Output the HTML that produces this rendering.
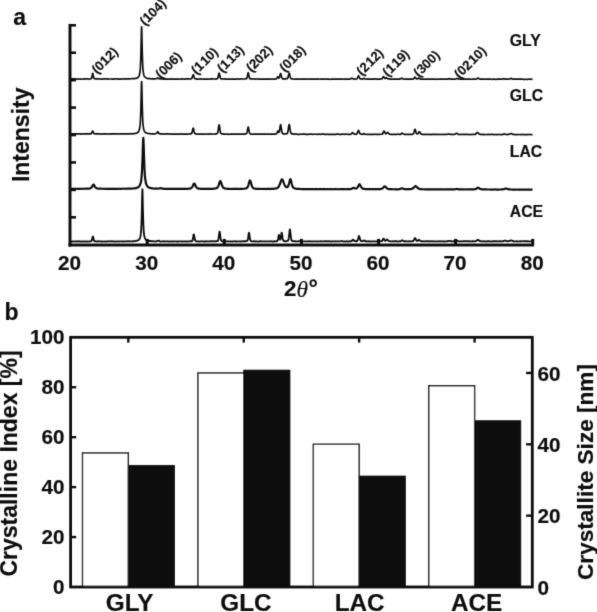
<!DOCTYPE html>
<html><head><meta charset="utf-8"><title>Figure</title>
<style>
html,body{margin:0;padding:0;background:#fff;}
body{width:597px;height:612px;overflow:hidden;font-family:"Liberation Sans",sans-serif;}
svg{display:block;}
svg text{font-family:"Liberation Sans",sans-serif;font-weight:bold;fill:#111;stroke:#111;stroke-width:0.18px;}
svg text.m{font-kerning:none;font-feature-settings:"kern" 0;}
svg text.th{stroke-width:0.15px;font-family:"Liberation Serif",serif;font-weight:normal;font-style:italic;}
</style></head><body>
<svg width="597" height="612" viewBox="0 0 597 612">
<defs><filter id="soft" x="0" y="0" width="597" height="612" filterUnits="userSpaceOnUse"><feConvolveMatrix order="3" kernelMatrix="0.012 0.086 0.012 0.086 0.608 0.086 0.012 0.086 0.012" edgeMode="none" preserveAlpha="false"/></filter></defs>
<rect x="0" y="0" width="597" height="612" fill="#ffffff"/>
<g filter="url(#soft)">

<g id="panel-a">
<text x="13.2" y="25.2" font-size="23">a</text>
<text transform="translate(28.5,134.8) rotate(-90)" text-anchor="middle" font-size="23">Intensity</text>
<path d="M70.50,78.97 L70.90,78.99 L71.30,78.89 L71.70,78.97 L72.10,78.94 L72.50,78.89 L72.90,78.90 L73.30,78.87 L73.70,79.08 L74.10,79.10 L74.50,79.12 L74.90,78.98 L75.30,78.94 L75.70,78.91 L76.10,78.91 L76.50,78.96 L76.90,78.99 L77.30,79.04 L77.70,79.01 L78.10,79.02 L78.50,79.05 L78.90,79.08 L79.30,79.06 L79.70,78.99 L80.10,78.99 L80.50,79.08 L80.90,79.08 L81.30,79.05 L81.70,79.01 L82.10,78.99 L82.50,78.98 L82.90,78.98 L83.30,79.04 L83.70,79.05 L84.10,79.04 L84.50,78.90 L84.90,78.94 L85.30,78.87 L85.70,78.92 L86.10,78.89 L86.50,78.95 L86.90,79.00 L87.30,78.94 L87.70,78.91 L88.10,78.92 L88.50,79.01 L88.90,79.03 L89.30,79.02 L89.70,78.99 L90.10,78.93 L90.50,78.84 L90.90,78.73 L91.30,78.52 L91.70,77.75 L92.10,75.91 L92.50,73.77 L92.50,73.68 L92.70,73.34 L92.90,73.75 L92.90,73.78 L93.30,75.88 L93.70,77.61 L94.10,78.50 L94.50,78.67 L94.90,78.75 L95.30,78.80 L95.70,78.95 L96.10,78.92 L96.50,78.88 L96.90,78.86 L97.30,78.93 L97.70,79.02 L98.10,78.96 L98.50,79.01 L98.90,78.90 L99.30,79.01 L99.70,79.00 L100.10,79.03 L100.50,78.90 L100.90,78.97 L101.30,79.02 L101.70,79.12 L102.10,79.10 L102.50,79.08 L102.90,79.02 L103.30,78.95 L103.70,78.90 L104.10,78.98 L104.50,78.96 L104.90,78.97 L105.30,78.90 L105.70,78.97 L106.10,79.01 L106.50,78.97 L106.90,78.90 L107.30,78.87 L107.70,78.97 L108.10,79.07 L108.50,79.08 L108.90,79.02 L109.30,79.00 L109.70,78.98 L110.10,79.03 L110.50,78.98 L110.90,79.00 L111.30,78.96 L111.70,79.01 L112.10,79.02 L112.50,79.12 L112.90,79.16 L113.30,79.21 L113.70,79.03 L114.10,78.95 L114.50,78.87 L114.90,78.97 L115.30,78.89 L115.70,78.96 L116.10,78.98 L116.50,79.02 L116.90,78.93 L117.30,78.86 L117.70,78.91 L118.10,78.97 L118.50,79.09 L118.90,79.08 L119.30,79.08 L119.70,79.00 L120.10,79.08 L120.50,79.08 L120.90,79.12 L121.30,79.01 L121.70,78.97 L122.10,78.88 L122.50,78.98 L122.90,79.01 L123.30,79.03 L123.70,78.95 L124.10,78.94 L124.50,78.92 L124.90,78.90 L125.30,78.89 L125.70,79.02 L126.10,79.04 L126.50,78.99 L126.90,78.84 L127.30,78.79 L127.70,78.83 L128.10,78.90 L128.50,78.95 L128.90,78.94 L129.30,78.90 L129.70,78.89 L130.10,78.81 L130.50,78.77 L130.90,78.76 L131.30,78.77 L131.70,78.76 L132.10,78.70 L132.50,78.70 L132.90,78.72 L133.30,78.71 L133.70,78.69 L134.10,78.65 L134.50,78.64 L134.90,78.67 L135.30,78.49 L135.70,78.42 L136.10,78.24 L136.50,78.21 L136.90,78.07 L137.30,77.94 L137.70,77.74 L138.10,77.38 L138.50,76.94 L138.90,76.23 L139.30,75.21 L139.70,73.57 L140.10,70.78 L140.50,65.62 L140.90,54.96 L141.30,36.21 L141.40,31.47 L141.60,26.90 L141.70,28.03 L141.80,31.36 L142.10,46.25 L142.50,61.16 L142.90,68.58 L143.30,72.45 L143.70,74.50 L144.10,75.80 L144.50,76.52 L144.90,77.06 L145.30,77.37 L145.70,77.64 L146.10,77.89 L146.50,78.13 L146.90,78.31 L147.30,78.43 L147.70,78.54 L148.10,78.61 L148.50,78.66 L148.90,78.63 L149.30,78.59 L149.70,78.65 L150.10,78.62 L150.50,78.74 L150.90,78.73 L151.30,78.87 L151.70,78.86 L152.10,78.84 L152.50,78.82 L152.90,78.81 L153.30,78.85 L153.70,78.85 L154.10,78.87 L154.50,78.88 L154.90,78.84 L155.30,78.84 L155.70,78.76 L156.10,78.76 L156.50,78.65 L156.90,78.59 L157.30,78.35 L157.60,78.12 L157.70,78.04 L157.80,77.97 L158.00,78.06 L158.10,78.13 L158.50,78.43 L158.90,78.66 L159.30,78.77 L159.70,78.83 L160.10,78.93 L160.50,78.90 L160.90,78.94 L161.30,78.97 L161.70,78.98 L162.10,78.93 L162.50,78.90 L162.90,78.93 L163.30,79.03 L163.70,79.04 L164.10,79.03 L164.50,78.93 L164.90,78.92 L165.30,79.05 L165.70,79.08 L166.10,79.09 L166.50,79.02 L166.90,79.03 L167.30,79.11 L167.70,79.07 L168.10,79.11 L168.50,79.02 L168.90,79.07 L169.30,78.99 L169.70,79.06 L170.10,79.03 L170.50,79.08 L170.90,78.97 L171.30,78.95 L171.70,78.97 L172.10,79.05 L172.50,79.11 L172.90,79.14 L173.30,79.13 L173.70,79.10 L174.10,79.08 L174.50,79.08 L174.90,79.07 L175.30,79.07 L175.70,79.10 L176.10,79.11 L176.50,79.07 L176.90,79.05 L177.30,79.11 L177.70,79.12 L178.10,79.09 L178.50,79.01 L178.90,79.06 L179.30,79.00 L179.70,79.02 L180.10,79.01 L180.50,79.06 L180.90,79.10 L181.30,79.07 L181.70,79.08 L182.10,79.03 L182.50,78.95 L182.90,78.95 L183.30,79.01 L183.70,79.04 L184.10,79.14 L184.50,79.06 L184.90,79.13 L185.30,79.06 L185.70,78.97 L186.10,78.91 L186.50,78.91 L186.90,78.95 L187.30,78.92 L187.70,78.92 L188.10,78.94 L188.50,78.92 L188.90,78.87 L189.30,78.92 L189.70,78.96 L190.10,79.01 L190.50,79.01 L190.90,78.99 L191.30,78.82 L191.70,78.46 L192.10,77.81 L192.50,76.64 L192.90,75.20 L193.00,74.95 L193.20,74.66 L193.30,74.72 L193.40,74.86 L193.70,75.85 L194.10,77.27 L194.50,78.17 L194.90,78.58 L195.30,78.73 L195.70,78.81 L196.10,78.89 L196.50,78.95 L196.90,79.12 L197.30,79.14 L197.70,79.13 L198.10,79.05 L198.50,79.03 L198.90,79.04 L199.30,79.05 L199.70,79.01 L200.10,78.92 L200.50,78.91 L200.90,78.92 L201.30,79.10 L201.70,79.04 L202.10,79.02 L202.50,79.02 L202.90,79.01 L203.30,79.06 L203.70,79.06 L204.10,79.11 L204.50,79.10 L204.90,79.04 L205.30,79.07 L205.70,79.04 L206.10,79.07 L206.50,79.06 L206.90,79.18 L207.30,79.14 L207.70,79.08 L208.10,79.02 L208.50,79.02 L208.90,79.06 L209.30,79.04 L209.70,79.10 L210.10,79.06 L210.50,79.05 L210.90,78.90 L211.30,78.89 L211.70,78.95 L212.10,79.03 L212.50,79.03 L212.90,78.92 L213.30,78.97 L213.70,79.00 L214.10,78.99 L214.50,78.99 L214.90,78.98 L215.30,79.04 L215.70,78.97 L216.10,79.01 L216.50,78.95 L216.90,78.91 L217.30,78.66 L217.70,78.20 L218.10,77.17 L218.50,75.29 L218.90,73.45 L218.90,73.44 L219.10,73.18 L219.30,73.49 L219.30,73.47 L219.70,75.23 L220.10,77.10 L220.50,78.21 L220.90,78.73 L221.30,78.89 L221.70,78.91 L222.10,78.92 L222.50,78.89 L222.90,78.98 L223.30,79.02 L223.70,79.05 L224.10,78.95 L224.50,78.94 L224.90,79.02 L225.30,79.10 L225.70,79.08 L226.10,79.08 L226.50,79.12 L226.90,79.19 L227.30,79.17 L227.70,79.16 L228.10,79.15 L228.50,79.15 L228.90,79.07 L229.30,79.11 L229.70,79.09 L230.10,79.20 L230.50,79.06 L230.90,79.08 L231.30,79.04 L231.70,79.11 L232.10,79.10 L232.50,79.09 L232.90,79.13 L233.30,79.09 L233.70,79.05 L234.10,79.07 L234.50,79.14 L234.90,79.15 L235.30,79.11 L235.70,79.07 L236.10,79.11 L236.50,79.06 L236.90,79.00 L237.30,78.96 L237.70,78.96 L238.10,78.99 L238.50,78.99 L238.90,79.05 L239.30,79.03 L239.70,79.06 L240.10,78.97 L240.50,79.03 L240.90,78.93 L241.30,78.95 L241.70,78.95 L242.10,78.99 L242.50,79.01 L242.90,78.96 L243.30,78.99 L243.70,79.01 L244.10,79.01 L244.50,79.02 L244.90,78.97 L245.30,78.92 L245.70,78.81 L246.10,78.80 L246.50,78.65 L246.90,78.13 L247.30,76.71 L247.70,74.51 L248.00,73.05 L248.10,72.77 L248.20,72.72 L248.40,73.07 L248.50,73.45 L248.90,75.60 L249.30,77.39 L249.70,78.42 L250.10,78.89 L250.50,79.02 L250.90,79.01 L251.30,78.85 L251.70,78.89 L252.10,78.91 L252.50,78.97 L252.90,79.00 L253.30,78.95 L253.70,78.99 L254.10,78.97 L254.50,78.99 L254.90,79.03 L255.30,79.07 L255.70,79.07 L256.10,78.98 L256.50,78.97 L256.90,79.02 L257.30,79.03 L257.70,79.00 L258.10,79.00 L258.50,79.04 L258.90,79.09 L259.30,79.11 L259.70,79.18 L260.10,79.21 L260.50,79.22 L260.90,79.19 L261.30,79.19 L261.70,79.19 L262.10,79.10 L262.50,79.08 L262.90,79.06 L263.30,79.17 L263.70,79.14 L264.10,79.16 L264.50,79.11 L264.90,79.17 L265.30,79.15 L265.70,79.13 L266.10,79.08 L266.50,79.05 L266.90,79.07 L267.30,79.05 L267.70,79.08 L268.10,79.15 L268.50,79.14 L268.90,79.13 L269.30,79.04 L269.70,79.08 L270.10,79.03 L270.50,79.01 L270.90,78.98 L271.30,79.05 L271.70,79.07 L272.10,79.05 L272.50,78.99 L272.90,79.01 L273.30,79.08 L273.70,79.12 L274.10,79.10 L274.50,79.05 L274.90,78.98 L275.30,78.94 L275.70,78.88 L276.10,78.86 L276.50,78.69 L276.90,78.17 L277.30,77.38 L277.60,76.85 L277.70,76.78 L277.80,76.70 L278.00,76.76 L278.10,76.95 L278.50,77.63 L278.90,78.09 L279.30,77.73 L279.70,76.68 L280.10,74.85 L280.40,73.72 L280.50,73.47 L280.60,73.44 L280.80,73.69 L280.90,73.99 L281.30,75.71 L281.70,77.27 L282.10,78.25 L282.50,78.68 L282.90,78.89 L283.30,78.94 L283.70,78.92 L284.10,78.93 L284.50,78.97 L284.90,79.05 L285.30,78.96 L285.70,78.74 L286.10,78.64 L286.50,78.73 L286.90,78.77 L287.30,78.62 L287.70,78.13 L288.10,77.11 L288.50,75.50 L288.90,73.81 L289.00,73.58 L289.20,73.34 L289.30,73.35 L289.40,73.53 L289.70,74.58 L290.10,76.44 L290.50,77.86 L290.90,78.56 L291.30,78.73 L291.70,78.73 L292.10,78.83 L292.50,79.00 L292.90,79.08 L293.30,79.05 L293.70,79.00 L294.10,79.01 L294.50,79.01 L294.90,79.09 L295.30,79.04 L295.70,79.12 L296.10,79.11 L296.50,79.15 L296.90,79.16 L297.30,79.09 L297.70,79.08 L298.10,79.05 L298.50,79.10 L298.90,79.14 L299.30,79.13 L299.70,79.09 L300.10,79.01 L300.50,79.01 L300.90,79.07 L301.30,79.07 L301.70,79.13 L302.10,79.11 L302.50,79.14 L302.90,79.04 L303.30,79.04 L303.70,79.07 L304.10,79.06 L304.50,79.09 L304.90,79.13 L305.30,79.22 L305.70,79.19 L306.10,79.22 L306.50,79.26 L306.90,79.20 L307.30,79.11 L307.70,79.05 L308.10,79.08 L308.50,78.99 L308.90,79.02 L309.30,79.01 L309.70,79.11 L310.10,79.07 L310.50,79.13 L310.90,79.11 L311.30,79.09 L311.70,79.08 L312.10,79.14 L312.50,79.16 L312.90,79.20 L313.30,79.15 L313.70,79.14 L314.10,79.15 L314.50,79.11 L314.90,79.17 L315.30,79.09 L315.70,79.14 L316.10,79.05 L316.50,79.04 L316.90,79.06 L317.30,79.12 L317.70,79.15 L318.10,79.09 L318.50,79.10 L318.90,79.05 L319.30,79.02 L319.70,79.00 L320.10,79.02 L320.50,79.04 L320.90,79.04 L321.30,79.07 L321.70,79.09 L322.10,79.16 L322.50,79.20 L322.90,79.26 L323.30,79.19 L323.70,79.13 L324.10,79.03 L324.50,79.01 L324.90,78.95 L325.30,78.99 L325.70,79.03 L326.10,79.18 L326.50,79.24 L326.90,79.18 L327.30,79.13 L327.70,79.06 L328.10,79.13 L328.50,79.10 L328.90,79.17 L329.30,79.24 L329.70,79.28 L330.10,79.34 L330.50,79.25 L330.90,79.20 L331.30,79.16 L331.70,79.22 L332.10,79.21 L332.50,79.16 L332.90,79.03 L333.30,79.05 L333.70,79.08 L334.10,79.13 L334.50,79.12 L334.90,79.03 L335.30,79.05 L335.70,79.10 L336.10,79.18 L336.50,79.18 L336.90,79.09 L337.30,79.14 L337.70,79.13 L338.10,79.17 L338.50,79.13 L338.90,79.05 L339.30,79.05 L339.70,79.02 L340.10,79.12 L340.50,79.17 L340.90,79.20 L341.30,79.11 L341.70,79.04 L342.10,79.03 L342.50,79.11 L342.90,79.07 L343.30,79.00 L343.70,79.01 L344.10,79.08 L344.50,79.14 L344.90,79.05 L345.30,79.11 L345.70,78.99 L346.10,79.05 L346.50,79.06 L346.90,79.17 L347.30,79.19 L347.70,79.06 L348.10,79.11 L348.50,79.05 L348.90,79.10 L349.30,79.05 L349.70,79.04 L350.10,79.04 L350.50,78.91 L350.90,78.74 L351.30,78.39 L351.70,78.11 L351.70,78.16 L351.90,78.14 L352.10,78.20 L352.10,78.16 L352.50,78.41 L352.90,78.72 L353.30,78.95 L353.70,79.03 L354.10,79.09 L354.50,79.05 L354.90,79.03 L355.30,79.04 L355.70,78.98 L356.10,78.99 L356.50,78.96 L356.90,78.82 L357.30,78.46 L357.70,77.60 L358.10,76.56 L358.40,75.83 L358.50,75.76 L358.60,75.72 L358.80,75.94 L358.90,76.20 L359.30,77.28 L359.70,78.24 L360.10,78.70 L360.50,78.91 L360.90,78.93 L361.30,78.90 L361.70,78.92 L362.10,79.03 L362.50,79.09 L362.90,78.99 L363.30,78.83 L363.70,78.59 L363.80,78.55 L364.00,78.41 L364.10,78.39 L364.20,78.43 L364.50,78.70 L364.90,78.94 L365.30,79.04 L365.70,78.99 L366.10,79.01 L366.50,78.99 L366.90,79.03 L367.30,79.07 L367.70,79.15 L368.10,79.17 L368.50,79.09 L368.90,79.02 L369.30,79.04 L369.70,79.14 L370.10,79.15 L370.50,79.10 L370.90,79.06 L371.30,79.15 L371.70,79.15 L372.10,79.13 L372.50,79.11 L372.90,79.11 L373.30,79.13 L373.70,79.05 L374.10,78.92 L374.50,78.89 L374.90,78.90 L375.30,79.03 L375.70,79.09 L376.10,79.16 L376.50,79.14 L376.90,79.11 L377.30,79.14 L377.70,79.13 L378.10,79.16 L378.50,79.13 L378.90,79.17 L379.30,79.19 L379.70,79.12 L380.10,79.14 L380.50,79.03 L380.90,79.01 L381.30,78.89 L381.70,78.86 L382.10,78.64 L382.50,78.22 L382.90,77.43 L383.30,76.74 L383.40,76.68 L383.60,76.62 L383.70,76.67 L383.80,76.70 L384.10,77.24 L384.50,77.94 L384.90,78.37 L385.30,78.47 L385.70,78.29 L386.10,78.02 L386.30,77.82 L386.50,77.73 L386.50,77.76 L386.70,77.80 L386.90,78.06 L387.30,78.44 L387.70,78.74 L388.10,78.81 L388.50,78.86 L388.90,78.89 L389.30,78.97 L389.70,79.00 L390.10,79.06 L390.50,79.05 L390.90,79.07 L391.30,79.16 L391.70,79.25 L392.10,79.23 L392.50,79.21 L392.90,79.12 L393.30,79.14 L393.70,79.07 L394.10,79.13 L394.50,79.06 L394.90,79.06 L395.30,79.03 L395.70,79.11 L396.10,79.09 L396.50,79.07 L396.90,79.05 L397.30,79.11 L397.70,79.10 L398.10,79.10 L398.50,79.07 L398.90,79.16 L399.30,79.17 L399.70,79.11 L400.10,78.92 L400.50,78.78 L400.90,78.65 L401.30,78.45 L401.50,78.37 L401.70,78.26 L401.70,78.20 L401.90,78.23 L402.10,78.37 L402.50,78.75 L402.90,78.89 L403.30,79.02 L403.70,79.01 L404.10,79.12 L404.50,79.10 L404.90,79.10 L405.30,79.05 L405.70,79.13 L406.10,79.15 L406.50,79.15 L406.90,79.06 L407.30,79.01 L407.70,79.10 L408.10,79.07 L408.50,79.08 L408.90,79.04 L409.30,79.16 L409.70,79.19 L410.10,79.19 L410.50,79.17 L410.90,79.21 L411.30,79.18 L411.70,79.21 L412.10,79.16 L412.50,79.21 L412.90,79.06 L413.30,79.01 L413.70,78.68 L414.10,78.21 L414.50,77.55 L414.80,77.15 L414.90,77.16 L415.00,77.07 L415.20,77.26 L415.30,77.35 L415.70,77.98 L416.10,78.48 L416.50,78.81 L416.90,78.90 L417.30,78.83 L417.70,78.67 L418.10,78.45 L418.40,78.27 L418.50,78.14 L418.60,78.12 L418.80,78.10 L418.90,78.05 L419.30,78.28 L419.70,78.57 L420.10,78.95 L420.50,79.08 L420.90,79.13 L421.30,79.03 L421.70,79.05 L422.10,79.07 L422.50,79.09 L422.90,79.08 L423.30,79.12 L423.70,79.15 L424.10,79.16 L424.50,79.21 L424.90,79.27 L425.30,79.20 L425.70,79.26 L426.10,79.19 L426.50,79.31 L426.90,79.18 L427.30,79.19 L427.70,79.15 L428.10,79.18 L428.50,79.20 L428.90,79.22 L429.30,79.18 L429.70,79.14 L430.10,79.14 L430.50,79.21 L430.90,79.20 L431.30,79.16 L431.70,79.13 L432.10,79.10 L432.50,79.06 L432.90,79.13 L433.30,79.16 L433.70,79.21 L434.10,79.12 L434.50,79.19 L434.90,79.25 L435.30,79.28 L435.70,79.24 L436.10,79.14 L436.50,79.22 L436.90,79.24 L437.30,79.24 L437.70,79.22 L438.10,79.19 L438.50,79.24 L438.90,79.21 L439.30,79.17 L439.70,79.13 L440.10,79.14 L440.50,79.16 L440.90,79.15 L441.30,79.20 L441.70,79.20 L442.10,79.21 L442.50,79.10 L442.90,79.14 L443.30,79.20 L443.70,79.24 L444.10,79.24 L444.50,79.14 L444.90,79.12 L445.30,79.06 L445.70,79.12 L446.10,79.15 L446.50,79.08 L446.90,79.19 L447.30,79.10 L447.70,79.14 L448.10,78.95 L448.50,78.92 L448.80,78.86 L448.90,78.70 L449.00,78.62 L449.20,78.65 L449.30,78.74 L449.70,78.84 L450.10,78.82 L450.50,78.98 L450.90,79.09 L451.30,79.17 L451.70,79.12 L452.10,79.10 L452.50,79.09 L452.90,79.09 L453.30,79.10 L453.70,79.17 L454.10,79.22 L454.50,79.20 L454.90,79.14 L455.30,79.06 L455.70,78.94 L456.10,78.77 L456.50,78.64 L456.80,78.56 L456.90,78.61 L457.00,78.58 L457.20,78.57 L457.30,78.61 L457.70,78.75 L458.10,78.94 L458.50,79.05 L458.90,79.07 L459.30,79.02 L459.70,79.01 L460.10,79.01 L460.50,79.14 L460.90,79.16 L461.30,79.18 L461.70,79.15 L462.10,79.20 L462.50,79.26 L462.90,79.28 L463.30,79.24 L463.70,79.18 L464.10,79.17 L464.50,79.17 L464.90,79.18 L465.30,79.20 L465.70,79.13 L466.10,79.07 L466.50,78.99 L466.90,79.01 L467.30,79.13 L467.70,79.25 L468.10,79.23 L468.50,79.11 L468.90,79.10 L469.30,79.15 L469.70,79.16 L470.10,79.17 L470.50,79.16 L470.90,79.27 L471.30,79.24 L471.70,79.27 L472.10,79.22 L472.50,79.17 L472.90,79.12 L473.30,79.08 L473.70,79.15 L474.10,79.12 L474.50,79.08 L474.90,79.06 L475.30,79.14 L475.70,79.23 L476.10,79.18 L476.50,78.95 L476.90,78.65 L477.30,78.30 L477.70,78.10 L477.80,78.00 L478.00,77.99 L478.10,78.01 L478.20,78.08 L478.50,78.24 L478.90,78.57 L479.30,78.87 L479.70,79.07 L480.10,79.16 L480.50,79.21 L480.90,79.21 L481.30,79.16 L481.70,79.20 L482.10,79.17 L482.50,79.16 L482.90,79.14 L483.30,79.14 L483.70,79.18 L484.10,79.20 L484.50,79.23 L484.90,79.22 L485.30,79.22 L485.70,79.24 L486.10,79.18 L486.50,79.09 L486.90,79.11 L487.30,79.19 L487.70,79.16 L488.10,79.05 L488.50,79.04 L488.90,79.09 L489.30,79.16 L489.70,79.16 L490.10,79.22 L490.50,79.15 L490.90,79.18 L491.30,79.24 L491.70,79.25 L492.10,79.28 L492.50,79.24 L492.90,79.30 L493.30,79.24 L493.70,79.16 L494.10,79.10 L494.50,79.13 L494.90,79.22 L495.30,79.30 L495.70,79.31 L496.10,79.30 L496.50,79.24 L496.90,79.15 L497.30,79.12 L497.70,79.16 L498.10,79.21 L498.50,79.14 L498.90,79.10 L499.30,79.04 L499.70,79.10 L500.10,79.08 L500.50,79.13 L500.90,79.13 L501.30,79.18 L501.70,79.23 L502.10,79.15 L502.50,79.01 L502.90,78.91 L503.30,78.91 L503.70,78.96 L503.80,78.92 L504.00,78.87 L504.10,78.82 L504.20,78.77 L504.50,78.78 L504.90,78.90 L505.30,79.02 L505.70,79.18 L506.10,79.13 L506.50,79.15 L506.90,79.12 L507.30,79.16 L507.70,79.12 L508.10,79.01 L508.50,78.98 L508.90,79.04 L509.30,79.02 L509.70,78.95 L510.10,78.73 L510.50,78.61 L510.80,78.52 L510.90,78.50 L511.00,78.44 L511.20,78.46 L511.30,78.56 L511.70,78.69 L512.10,78.85 L512.50,79.02 L512.90,79.10 L513.30,79.09 L513.70,79.09 L514.10,79.16 L514.50,79.22 L514.90,79.20 L515.30,79.17 L515.70,79.20 L516.10,79.18 L516.50,79.22 L516.90,79.16 L517.30,79.14 L517.70,79.11 L518.10,79.14 L518.50,79.20 L518.90,79.20 L519.30,79.20 L519.70,79.18 L520.10,79.16 L520.50,79.12 L520.90,79.07 L521.30,79.06 L521.70,79.10 L522.10,79.15 L522.50,79.22 L522.90,79.26 L523.30,79.33 L523.70,79.34 L524.10,79.31 L524.50,79.31 L524.90,79.30 L525.30,79.29 L525.70,79.24 L526.10,79.24 L526.50,79.27 L526.90,79.29 L527.30,79.27 L527.70,79.29 L528.10,79.23 L528.50,79.23 L528.90,79.19 L529.30,79.23 L529.70,79.15 L530.10,79.18 L530.50,79.20 L530.90,79.29 L531.30,79.28 L531.70,79.25 L532.10,79.19 L532.50,79.19" fill="none" stroke="#111" stroke-width="1.7" stroke-linejoin="round"/>
<path d="M70.50,133.85 L70.90,133.85 L71.30,133.92 L71.70,133.90 L72.10,133.94 L72.50,133.84 L72.90,133.85 L73.30,133.81 L73.70,133.92 L74.10,133.92 L74.50,133.84 L74.90,133.81 L75.30,133.83 L75.70,133.88 L76.10,133.82 L76.50,133.79 L76.90,133.84 L77.30,133.91 L77.70,133.88 L78.10,133.97 L78.50,133.94 L78.90,133.98 L79.30,133.92 L79.70,133.93 L80.10,134.03 L80.50,134.05 L80.90,134.03 L81.30,133.92 L81.70,133.86 L82.10,133.86 L82.50,133.90 L82.90,133.90 L83.30,133.98 L83.70,133.95 L84.10,133.97 L84.50,133.94 L84.90,133.86 L85.30,133.83 L85.70,133.82 L86.10,133.89 L86.50,133.93 L86.90,133.92 L87.30,133.89 L87.70,133.89 L88.10,133.81 L88.50,133.76 L88.90,133.81 L89.30,133.82 L89.70,133.85 L90.10,133.84 L90.50,133.88 L90.90,133.82 L91.30,133.53 L91.70,132.97 L92.10,132.04 L92.50,131.17 L92.50,131.18 L92.70,131.06 L92.90,131.23 L92.90,131.25 L93.30,132.23 L93.70,133.18 L94.10,133.60 L94.50,133.77 L94.90,133.74 L95.30,133.79 L95.70,133.80 L96.10,133.83 L96.50,133.88 L96.90,133.90 L97.30,133.91 L97.70,133.89 L98.10,133.86 L98.50,133.94 L98.90,134.00 L99.30,133.93 L99.70,133.86 L100.10,133.83 L100.50,133.97 L100.90,134.03 L101.30,134.08 L101.70,134.05 L102.10,134.00 L102.50,133.99 L102.90,133.96 L103.30,133.93 L103.70,133.91 L104.10,133.92 L104.50,133.91 L104.90,133.95 L105.30,133.95 L105.70,134.04 L106.10,133.98 L106.50,133.95 L106.90,133.97 L107.30,134.03 L107.70,134.00 L108.10,133.95 L108.50,133.97 L108.90,134.00 L109.30,134.01 L109.70,134.05 L110.10,134.05 L110.50,134.03 L110.90,133.89 L111.30,133.87 L111.70,133.93 L112.10,133.96 L112.50,133.94 L112.90,133.85 L113.30,133.85 L113.70,133.93 L114.10,133.94 L114.50,133.97 L114.90,133.91 L115.30,133.96 L115.70,133.95 L116.10,133.99 L116.50,133.96 L116.90,133.93 L117.30,133.93 L117.70,133.89 L118.10,133.90 L118.50,133.90 L118.90,134.00 L119.30,133.99 L119.70,133.96 L120.10,133.92 L120.50,133.89 L120.90,133.89 L121.30,133.90 L121.70,133.94 L122.10,133.90 L122.50,133.87 L122.90,133.77 L123.30,133.84 L123.70,133.83 L124.10,133.92 L124.50,133.84 L124.90,133.86 L125.30,133.86 L125.70,133.94 L126.10,133.89 L126.50,133.90 L126.90,133.84 L127.30,133.86 L127.70,133.84 L128.10,133.83 L128.50,133.84 L128.90,133.79 L129.30,133.80 L129.70,133.80 L130.10,133.81 L130.50,133.75 L130.90,133.71 L131.30,133.72 L131.70,133.79 L132.10,133.79 L132.50,133.81 L132.90,133.73 L133.30,133.66 L133.70,133.59 L134.10,133.51 L134.50,133.53 L134.90,133.49 L135.30,133.45 L135.70,133.35 L136.10,133.30 L136.50,133.20 L136.90,133.06 L137.30,132.79 L137.70,132.51 L138.10,132.15 L138.50,131.64 L138.90,130.84 L139.30,129.83 L139.70,128.06 L140.10,125.16 L140.50,119.63 L140.90,108.78 L141.30,90.30 L141.40,85.88 L141.60,81.62 L141.70,82.76 L141.80,85.79 L142.10,100.11 L142.50,115.10 L142.90,122.89 L143.30,126.92 L143.70,129.16 L144.10,130.50 L144.50,131.33 L144.90,131.87 L145.30,132.35 L145.70,132.68 L146.10,132.94 L146.50,133.04 L146.90,133.19 L147.30,133.31 L147.70,133.40 L148.10,133.46 L148.50,133.48 L148.90,133.49 L149.30,133.56 L149.70,133.66 L150.10,133.76 L150.50,133.78 L150.90,133.74 L151.30,133.75 L151.70,133.79 L152.10,133.78 L152.50,133.80 L152.90,133.81 L153.30,133.95 L153.70,133.88 L154.10,133.81 L154.50,133.78 L154.90,133.75 L155.30,133.76 L155.70,133.67 L156.10,133.63 L156.50,133.39 L156.90,132.96 L157.30,132.30 L157.60,131.90 L157.70,131.84 L157.80,131.76 L158.00,131.92 L158.10,132.06 L158.50,132.87 L158.90,133.39 L159.30,133.71 L159.70,133.74 L160.10,133.87 L160.50,133.89 L160.90,133.90 L161.30,133.91 L161.70,133.96 L162.10,134.03 L162.50,134.05 L162.90,133.98 L163.30,133.93 L163.70,133.87 L164.10,133.91 L164.50,133.99 L164.90,134.06 L165.30,134.05 L165.70,133.97 L166.10,133.97 L166.50,133.96 L166.90,133.93 L167.30,133.85 L167.70,133.85 L168.10,133.89 L168.50,134.02 L168.90,134.04 L169.30,134.04 L169.70,133.95 L170.10,134.02 L170.50,134.02 L170.90,134.07 L171.30,134.03 L171.70,134.13 L172.10,134.12 L172.50,134.09 L172.90,134.05 L173.30,134.03 L173.70,134.09 L174.10,134.07 L174.50,134.14 L174.90,134.10 L175.30,134.12 L175.70,134.02 L176.10,134.03 L176.50,134.01 L176.90,134.05 L177.30,134.08 L177.70,134.06 L178.10,134.02 L178.50,134.03 L178.90,134.04 L179.30,134.05 L179.70,134.05 L180.10,134.09 L180.50,134.01 L180.90,133.95 L181.30,133.95 L181.70,134.09 L182.10,134.09 L182.50,134.12 L182.90,134.05 L183.30,134.06 L183.70,134.01 L184.10,134.04 L184.50,134.08 L184.90,134.11 L185.30,134.11 L185.70,134.13 L186.10,134.06 L186.50,134.05 L186.90,134.06 L187.30,134.09 L187.70,134.14 L188.10,134.04 L188.50,134.02 L188.90,133.97 L189.30,133.98 L189.70,133.95 L190.10,133.93 L190.50,133.91 L190.90,133.91 L191.30,133.76 L191.70,133.35 L192.10,132.36 L192.50,130.61 L192.90,128.63 L193.00,128.32 L193.20,128.13 L193.30,128.27 L193.40,128.43 L193.70,129.57 L194.10,131.45 L194.50,132.80 L194.90,133.43 L195.30,133.77 L195.70,133.83 L196.10,133.95 L196.50,134.03 L196.90,134.15 L197.30,134.15 L197.70,134.12 L198.10,134.02 L198.50,134.01 L198.90,133.99 L199.30,134.10 L199.70,134.10 L200.10,134.11 L200.50,134.06 L200.90,134.04 L201.30,134.01 L201.70,134.07 L202.10,134.12 L202.50,134.15 L202.90,134.12 L203.30,134.10 L203.70,134.13 L204.10,134.16 L204.50,134.25 L204.90,134.25 L205.30,134.18 L205.70,134.09 L206.10,134.01 L206.50,133.99 L206.90,133.98 L207.30,134.05 L207.70,134.15 L208.10,134.15 L208.50,134.15 L208.90,134.04 L209.30,134.05 L209.70,133.97 L210.10,133.96 L210.50,133.97 L210.90,134.01 L211.30,134.06 L211.70,134.03 L212.10,133.99 L212.50,133.99 L212.90,133.98 L213.30,134.03 L213.70,133.98 L214.10,134.00 L214.50,134.00 L214.90,134.08 L215.30,134.08 L215.70,134.04 L216.10,133.92 L216.50,133.73 L216.90,133.60 L217.30,133.38 L217.70,132.71 L218.10,130.82 L218.50,127.87 L218.90,125.12 L218.90,125.18 L219.10,124.77 L219.30,125.23 L219.30,125.25 L219.70,127.92 L220.10,130.72 L220.50,132.49 L220.90,133.26 L221.30,133.67 L221.70,133.77 L222.10,133.87 L222.50,133.91 L222.90,134.00 L223.30,134.07 L223.70,134.03 L224.10,134.07 L224.50,134.08 L224.90,134.21 L225.30,134.23 L225.70,134.25 L226.10,134.17 L226.50,134.15 L226.90,134.16 L227.30,134.19 L227.70,134.24 L228.10,134.21 L228.50,134.28 L228.90,134.32 L229.30,134.26 L229.70,134.25 L230.10,134.17 L230.50,134.23 L230.90,134.15 L231.30,134.16 L231.70,134.10 L232.10,134.08 L232.50,134.02 L232.90,134.08 L233.30,134.14 L233.70,134.20 L234.10,134.21 L234.50,134.15 L234.90,134.05 L235.30,134.05 L235.70,134.08 L236.10,134.17 L236.50,134.21 L236.90,134.19 L237.30,134.17 L237.70,134.02 L238.10,134.05 L238.50,134.06 L238.90,134.12 L239.30,134.11 L239.70,134.07 L240.10,134.08 L240.50,134.14 L240.90,134.21 L241.30,134.26 L241.70,134.21 L242.10,134.20 L242.50,134.17 L242.90,134.22 L243.30,134.19 L243.70,134.20 L244.10,134.08 L244.50,134.05 L244.90,133.90 L245.30,133.79 L245.70,133.81 L246.10,133.85 L246.50,133.61 L246.90,132.78 L247.30,131.15 L247.70,128.84 L248.00,127.46 L248.10,127.14 L248.20,127.06 L248.40,127.22 L248.50,127.72 L248.90,129.99 L249.30,132.19 L249.70,133.24 L250.10,133.74 L250.50,133.86 L250.90,133.99 L251.30,134.10 L251.70,134.22 L252.10,134.29 L252.50,134.21 L252.90,134.17 L253.30,134.18 L253.70,134.23 L254.10,134.22 L254.50,134.19 L254.90,134.14 L255.30,134.13 L255.70,134.18 L256.10,134.18 L256.50,134.18 L256.90,134.15 L257.30,134.14 L257.70,134.13 L258.10,134.03 L258.50,134.06 L258.90,134.01 L259.30,134.04 L259.70,134.05 L260.10,134.10 L260.50,134.12 L260.90,134.05 L261.30,134.12 L261.70,134.12 L262.10,134.18 L262.50,134.09 L262.90,134.11 L263.30,134.11 L263.70,134.12 L264.10,134.09 L264.50,134.15 L264.90,134.14 L265.30,134.18 L265.70,134.17 L266.10,134.19 L266.50,134.23 L266.90,134.21 L267.30,134.17 L267.70,134.13 L268.10,134.14 L268.50,134.18 L268.90,134.18 L269.30,134.26 L269.70,134.27 L270.10,134.28 L270.50,134.17 L270.90,134.22 L271.30,134.19 L271.70,134.17 L272.10,134.06 L272.50,134.08 L272.90,134.13 L273.30,134.11 L273.70,134.05 L274.10,134.04 L274.50,134.13 L274.90,134.08 L275.30,134.01 L275.70,133.97 L276.10,133.93 L276.50,133.74 L276.90,133.20 L277.30,132.23 L277.70,131.23 L277.70,131.26 L277.90,131.04 L278.10,131.17 L278.10,131.20 L278.50,132.03 L278.90,132.47 L279.30,131.71 L279.70,129.75 L280.10,126.84 L280.40,125.21 L280.50,124.84 L280.60,124.74 L280.80,125.04 L280.90,125.51 L281.30,128.28 L281.70,130.93 L282.10,132.57 L282.50,133.38 L282.90,133.75 L283.30,133.87 L283.70,133.96 L284.10,133.92 L284.50,133.91 L284.90,133.82 L285.30,133.88 L285.70,133.83 L286.10,133.78 L286.50,133.73 L286.90,133.71 L287.30,133.44 L287.70,132.44 L288.10,130.61 L288.50,127.96 L288.90,125.42 L289.00,124.93 L289.20,124.52 L289.30,124.54 L289.40,124.83 L289.70,126.56 L290.10,129.46 L290.50,131.70 L290.90,132.85 L291.30,133.44 L291.70,133.73 L292.10,133.93 L292.50,133.95 L292.90,134.02 L293.30,134.04 L293.70,134.05 L294.10,134.00 L294.50,133.96 L294.90,133.99 L295.30,134.07 L295.70,134.12 L296.10,134.16 L296.50,134.19 L296.90,134.17 L297.30,134.23 L297.70,134.29 L298.10,134.35 L298.50,134.30 L298.90,134.28 L299.30,134.29 L299.70,134.29 L300.10,134.24 L300.50,134.19 L300.90,134.13 L301.30,134.17 L301.70,134.25 L302.10,134.26 L302.50,134.23 L302.90,134.19 L303.30,134.22 L303.70,134.19 L304.10,134.17 L304.50,134.11 L304.90,134.14 L305.30,134.14 L305.70,134.31 L306.10,134.35 L306.50,134.35 L306.90,134.26 L307.30,134.30 L307.70,134.38 L308.10,134.38 L308.50,134.31 L308.90,134.19 L309.30,134.17 L309.70,134.17 L310.10,134.20 L310.50,134.28 L310.90,134.22 L311.30,134.24 L311.70,134.19 L312.10,134.28 L312.50,134.35 L312.90,134.28 L313.30,134.24 L313.70,134.17 L314.10,134.24 L314.50,134.25 L314.90,134.22 L315.30,134.26 L315.70,134.23 L316.10,134.24 L316.50,134.25 L316.90,134.37 L317.30,134.42 L317.70,134.33 L318.10,134.23 L318.50,134.16 L318.90,134.15 L319.30,134.17 L319.70,134.26 L320.10,134.31 L320.50,134.30 L320.90,134.22 L321.30,134.16 L321.70,134.24 L322.10,134.19 L322.50,134.25 L322.90,134.14 L323.30,134.18 L323.70,134.11 L324.10,134.21 L324.50,134.25 L324.90,134.42 L325.30,134.34 L325.70,134.30 L326.10,134.21 L326.50,134.28 L326.90,134.31 L327.30,134.21 L327.70,134.24 L328.10,134.28 L328.50,134.38 L328.90,134.30 L329.30,134.30 L329.70,134.26 L330.10,134.29 L330.50,134.25 L330.90,134.33 L331.30,134.31 L331.70,134.30 L332.10,134.30 L332.50,134.32 L332.90,134.34 L333.30,134.28 L333.70,134.31 L334.10,134.29 L334.50,134.32 L334.90,134.36 L335.30,134.40 L335.70,134.35 L336.10,134.22 L336.50,134.21 L336.90,134.20 L337.30,134.18 L337.70,134.15 L338.10,134.15 L338.50,134.25 L338.90,134.22 L339.30,134.33 L339.70,134.27 L340.10,134.33 L340.50,134.29 L340.90,134.33 L341.30,134.36 L341.70,134.29 L342.10,134.19 L342.50,134.15 L342.90,134.12 L343.30,134.19 L343.70,134.24 L344.10,134.30 L344.50,134.30 L344.90,134.21 L345.30,134.21 L345.70,134.22 L346.10,134.20 L346.50,134.23 L346.90,134.19 L347.30,134.26 L347.70,134.23 L348.10,134.31 L348.50,134.33 L348.90,134.34 L349.30,134.29 L349.70,134.26 L350.10,134.30 L350.50,134.30 L350.90,134.18 L351.30,133.90 L351.70,133.51 L352.10,132.95 L352.30,132.77 L352.50,132.61 L352.50,132.73 L352.70,132.75 L352.90,132.96 L353.30,133.35 L353.70,133.78 L354.10,134.04 L354.50,134.25 L354.90,134.22 L355.30,134.17 L355.70,134.24 L356.10,134.28 L356.50,134.18 L356.90,133.75 L357.30,132.99 L357.70,132.06 L358.10,130.93 L358.30,130.58 L358.50,130.41 L358.50,130.38 L358.70,130.55 L358.90,130.92 L359.30,132.09 L359.70,133.11 L360.10,133.70 L360.50,133.93 L360.90,134.02 L361.30,134.11 L361.70,134.24 L362.10,134.32 L362.50,134.29 L362.90,134.14 L363.30,133.96 L363.70,133.71 L363.80,133.76 L364.00,133.71 L364.10,133.77 L364.20,133.73 L364.50,133.83 L364.90,134.10 L365.30,134.22 L365.70,134.30 L366.10,134.25 L366.50,134.24 L366.90,134.28 L367.30,134.24 L367.70,134.30 L368.10,134.31 L368.50,134.29 L368.90,134.32 L369.30,134.32 L369.70,134.34 L370.10,134.31 L370.50,134.32 L370.90,134.44 L371.30,134.39 L371.70,134.41 L372.10,134.33 L372.50,134.39 L372.90,134.35 L373.30,134.35 L373.70,134.35 L374.10,134.31 L374.50,134.23 L374.90,134.21 L375.30,134.24 L375.70,134.32 L376.10,134.35 L376.50,134.36 L376.90,134.40 L377.30,134.37 L377.70,134.38 L378.10,134.36 L378.50,134.39 L378.90,134.37 L379.30,134.34 L379.70,134.28 L380.10,134.25 L380.50,134.23 L380.90,134.27 L381.30,134.25 L381.70,134.22 L382.10,134.13 L382.50,133.93 L382.90,133.28 L383.30,132.34 L383.70,131.38 L383.80,131.26 L384.00,131.12 L384.10,131.14 L384.20,131.24 L384.50,131.76 L384.90,132.67 L385.30,133.38 L385.70,133.74 L386.10,133.80 L386.50,133.51 L386.90,133.02 L387.30,132.55 L387.40,132.42 L387.60,132.32 L387.70,132.31 L387.80,132.40 L388.10,132.69 L388.50,133.27 L388.90,133.74 L389.30,134.04 L389.70,134.22 L390.10,134.24 L390.50,134.32 L390.90,134.23 L391.30,134.30 L391.70,134.33 L392.10,134.33 L392.50,134.33 L392.90,134.31 L393.30,134.30 L393.70,134.36 L394.10,134.37 L394.50,134.40 L394.90,134.33 L395.30,134.31 L395.70,134.33 L396.10,134.34 L396.50,134.41 L396.90,134.30 L397.30,134.23 L397.70,134.17 L398.10,134.19 L398.50,134.27 L398.90,134.25 L399.30,134.34 L399.70,134.34 L400.10,134.38 L400.50,134.30 L400.90,134.13 L401.30,133.76 L401.70,133.41 L401.80,133.32 L402.00,133.23 L402.10,133.15 L402.20,133.12 L402.50,133.38 L402.90,133.71 L403.30,134.04 L403.70,134.14 L404.10,134.33 L404.50,134.35 L404.90,134.36 L405.30,134.34 L405.70,134.25 L406.10,134.29 L406.50,134.31 L406.90,134.33 L407.30,134.35 L407.70,134.33 L408.10,134.41 L408.50,134.31 L408.90,134.34 L409.30,134.35 L409.70,134.40 L410.10,134.33 L410.50,134.33 L410.90,134.37 L411.30,134.41 L411.70,134.40 L412.10,134.29 L412.50,134.23 L412.90,134.10 L413.30,133.86 L413.70,133.34 L414.10,132.16 L414.50,130.56 L414.80,129.53 L414.90,129.31 L415.00,129.29 L415.20,129.50 L415.30,129.78 L415.70,131.23 L416.10,132.58 L416.50,133.47 L416.90,133.84 L417.30,134.02 L417.70,133.92 L418.10,133.59 L418.50,132.85 L418.90,132.18 L419.20,131.84 L419.30,131.84 L419.40,131.75 L419.60,131.80 L419.70,131.88 L420.10,132.64 L420.50,133.36 L420.90,133.85 L421.30,134.03 L421.70,134.06 L422.10,134.20 L422.50,134.29 L422.90,134.48 L423.30,134.56 L423.70,134.51 L424.10,134.46 L424.50,134.43 L424.90,134.49 L425.30,134.46 L425.70,134.46 L426.10,134.45 L426.50,134.53 L426.90,134.50 L427.30,134.47 L427.70,134.40 L428.10,134.39 L428.50,134.37 L428.90,134.37 L429.30,134.41 L429.70,134.46 L430.10,134.53 L430.50,134.55 L430.90,134.56 L431.30,134.46 L431.70,134.44 L432.10,134.47 L432.50,134.46 L432.90,134.40 L433.30,134.31 L433.70,134.32 L434.10,134.36 L434.50,134.36 L434.90,134.42 L435.30,134.38 L435.70,134.41 L436.10,134.38 L436.50,134.39 L436.90,134.43 L437.30,134.46 L437.70,134.52 L438.10,134.46 L438.50,134.49 L438.90,134.49 L439.30,134.50 L439.70,134.40 L440.10,134.41 L440.50,134.45 L440.90,134.52 L441.30,134.50 L441.70,134.48 L442.10,134.48 L442.50,134.43 L442.90,134.42 L443.30,134.43 L443.70,134.44 L444.10,134.41 L444.50,134.47 L444.90,134.52 L445.30,134.54 L445.70,134.44 L446.10,134.31 L446.50,134.26 L446.90,134.25 L447.30,134.36 L447.70,134.26 L448.10,134.13 L448.50,134.02 L448.80,134.06 L448.90,134.09 L449.00,134.06 L449.20,134.04 L449.30,134.04 L449.70,134.13 L450.10,134.30 L450.50,134.36 L450.90,134.45 L451.30,134.37 L451.70,134.40 L452.10,134.47 L452.50,134.51 L452.90,134.57 L453.30,134.40 L453.70,134.39 L454.10,134.31 L454.50,134.28 L454.90,134.20 L455.30,134.09 L455.70,133.84 L456.10,133.56 L456.40,133.30 L456.50,133.29 L456.60,133.25 L456.80,133.36 L456.90,133.33 L457.30,133.58 L457.70,133.90 L458.10,134.20 L458.50,134.38 L458.90,134.38 L459.30,134.39 L459.70,134.43 L460.10,134.50 L460.50,134.49 L460.90,134.46 L461.30,134.45 L461.70,134.43 L462.10,134.49 L462.50,134.47 L462.90,134.51 L463.30,134.38 L463.70,134.32 L464.10,134.28 L464.50,134.35 L464.90,134.37 L465.30,134.43 L465.70,134.46 L466.10,134.49 L466.50,134.40 L466.90,134.45 L467.30,134.45 L467.70,134.55 L468.10,134.47 L468.50,134.48 L468.90,134.49 L469.30,134.52 L469.70,134.56 L470.10,134.52 L470.50,134.59 L470.90,134.48 L471.30,134.46 L471.70,134.42 L472.10,134.48 L472.50,134.48 L472.90,134.36 L473.30,134.41 L473.70,134.34 L474.10,134.42 L474.50,134.35 L474.90,134.40 L475.30,134.32 L475.70,134.07 L476.10,133.66 L476.50,133.15 L476.90,132.67 L477.20,132.51 L477.30,132.47 L477.40,132.53 L477.60,132.50 L477.70,132.58 L478.10,132.92 L478.50,133.43 L478.90,133.78 L479.30,134.12 L479.70,134.26 L480.10,134.29 L480.50,134.32 L480.90,134.36 L481.30,134.44 L481.70,134.52 L482.10,134.54 L482.50,134.53 L482.90,134.41 L483.30,134.43 L483.70,134.48 L484.10,134.55 L484.50,134.58 L484.90,134.56 L485.30,134.52 L485.70,134.50 L486.10,134.52 L486.50,134.50 L486.90,134.51 L487.30,134.55 L487.70,134.51 L488.10,134.46 L488.50,134.42 L488.90,134.47 L489.30,134.47 L489.70,134.54 L490.10,134.51 L490.50,134.49 L490.90,134.45 L491.30,134.40 L491.70,134.40 L492.10,134.42 L492.50,134.46 L492.90,134.46 L493.30,134.48 L493.70,134.55 L494.10,134.59 L494.50,134.56 L494.90,134.51 L495.30,134.52 L495.70,134.51 L496.10,134.63 L496.50,134.64 L496.90,134.64 L497.30,134.54 L497.70,134.52 L498.10,134.48 L498.50,134.44 L498.90,134.50 L499.30,134.50 L499.70,134.51 L500.10,134.49 L500.50,134.60 L500.90,134.58 L501.30,134.59 L501.70,134.50 L502.10,134.57 L502.50,134.46 L502.90,134.35 L503.30,134.16 L503.70,134.02 L503.80,133.98 L504.00,134.02 L504.10,133.98 L504.20,134.07 L504.50,134.05 L504.90,134.15 L505.30,134.20 L505.70,134.30 L506.10,134.45 L506.50,134.58 L506.90,134.59 L507.30,134.55 L507.70,134.41 L508.10,134.36 L508.50,134.32 L508.90,134.19 L509.30,134.12 L509.70,134.00 L510.10,134.02 L510.50,133.81 L510.70,133.73 L510.90,133.62 L510.90,133.61 L511.10,133.59 L511.30,133.58 L511.70,133.78 L512.10,133.99 L512.50,134.24 L512.90,134.33 L513.30,134.36 L513.70,134.39 L514.10,134.46 L514.50,134.57 L514.90,134.62 L515.30,134.59 L515.70,134.60 L516.10,134.51 L516.50,134.55 L516.90,134.55 L517.30,134.58 L517.70,134.59 L518.10,134.51 L518.50,134.49 L518.90,134.49 L519.30,134.50 L519.70,134.49 L520.10,134.58 L520.50,134.64 L520.90,134.65 L521.30,134.51 L521.70,134.55 L522.10,134.47 L522.50,134.50 L522.90,134.47 L523.30,134.56 L523.70,134.59 L524.10,134.53 L524.50,134.55 L524.90,134.53 L525.30,134.57 L525.70,134.58 L526.10,134.58 L526.50,134.62 L526.90,134.61 L527.30,134.58 L527.70,134.53 L528.10,134.53 L528.50,134.49 L528.90,134.43 L529.30,134.38 L529.70,134.46 L530.10,134.51 L530.50,134.55 L530.90,134.65 L531.30,134.72 L531.70,134.73 L532.10,134.59 L532.50,134.55" fill="none" stroke="#111" stroke-width="1.7" stroke-linejoin="round"/>
<path d="M70.50,188.78 L70.90,188.80 L71.30,188.79 L71.70,188.83 L72.10,188.79 L72.50,188.80 L72.90,188.75 L73.30,188.75 L73.70,188.76 L74.10,188.80 L74.50,188.77 L74.90,188.76 L75.30,188.76 L75.70,188.79 L76.10,188.77 L76.50,188.75 L76.90,188.74 L77.30,188.77 L77.70,188.78 L78.10,188.81 L78.50,188.81 L78.90,188.78 L79.30,188.76 L79.70,188.78 L80.10,188.78 L80.50,188.78 L80.90,188.73 L81.30,188.74 L81.70,188.73 L82.10,188.76 L82.50,188.78 L82.90,188.79 L83.30,188.78 L83.70,188.74 L84.10,188.74 L84.50,188.73 L84.90,188.74 L85.30,188.72 L85.70,188.69 L86.10,188.71 L86.50,188.69 L86.90,188.66 L87.30,188.63 L87.70,188.61 L88.10,188.61 L88.50,188.61 L88.90,188.58 L89.30,188.54 L89.70,188.49 L90.10,188.37 L90.50,188.22 L90.90,187.97 L91.30,187.68 L91.70,187.24 L92.10,186.60 L92.50,185.87 L92.90,185.13 L93.30,184.68 L93.30,184.65 L93.50,184.57 L93.70,184.64 L93.70,184.67 L94.10,185.14 L94.50,185.84 L94.90,186.53 L95.30,187.15 L95.70,187.57 L96.10,187.93 L96.50,188.19 L96.90,188.38 L97.30,188.46 L97.70,188.49 L98.10,188.55 L98.50,188.59 L98.90,188.65 L99.30,188.67 L99.70,188.67 L100.10,188.65 L100.50,188.66 L100.90,188.67 L101.30,188.71 L101.70,188.73 L102.10,188.74 L102.50,188.76 L102.90,188.75 L103.30,188.78 L103.70,188.76 L104.10,188.77 L104.50,188.77 L104.90,188.81 L105.30,188.83 L105.70,188.83 L106.10,188.78 L106.50,188.78 L106.90,188.76 L107.30,188.78 L107.70,188.78 L108.10,188.81 L108.50,188.83 L108.90,188.83 L109.30,188.81 L109.70,188.82 L110.10,188.81 L110.50,188.81 L110.90,188.81 L111.30,188.82 L111.70,188.84 L112.10,188.83 L112.50,188.86 L112.90,188.87 L113.30,188.83 L113.70,188.79 L114.10,188.78 L114.50,188.82 L114.90,188.83 L115.30,188.85 L115.70,188.86 L116.10,188.83 L116.50,188.79 L116.90,188.73 L117.30,188.78 L117.70,188.79 L118.10,188.82 L118.50,188.76 L118.90,188.75 L119.30,188.76 L119.70,188.78 L120.10,188.78 L120.50,188.76 L120.90,188.79 L121.30,188.79 L121.70,188.77 L122.10,188.72 L122.50,188.72 L122.90,188.74 L123.30,188.74 L123.70,188.73 L124.10,188.72 L124.50,188.73 L124.90,188.72 L125.30,188.75 L125.70,188.76 L126.10,188.75 L126.50,188.71 L126.90,188.69 L127.30,188.73 L127.70,188.76 L128.10,188.70 L128.50,188.65 L128.90,188.60 L129.30,188.63 L129.70,188.62 L130.10,188.62 L130.50,188.60 L130.90,188.61 L131.30,188.57 L131.70,188.54 L132.10,188.51 L132.50,188.49 L132.90,188.48 L133.30,188.44 L133.70,188.44 L134.10,188.36 L134.50,188.35 L134.90,188.30 L135.30,188.23 L135.70,188.13 L136.10,188.02 L136.50,187.91 L136.90,187.80 L137.30,187.66 L137.70,187.48 L138.10,187.25 L138.50,186.98 L138.90,186.64 L139.30,186.18 L139.70,185.60 L140.10,184.77 L140.50,183.66 L140.90,182.01 L141.30,179.56 L141.70,175.62 L142.10,169.24 L142.50,159.03 L142.90,145.58 L143.10,140.08 L143.30,137.93 L143.30,137.93 L143.50,140.09 L143.70,145.62 L144.10,159.12 L144.50,169.27 L144.90,175.65 L145.30,179.52 L145.70,182.05 L146.10,183.63 L146.50,184.76 L146.90,185.54 L147.30,186.18 L147.70,186.66 L148.10,187.03 L148.50,187.28 L148.90,187.50 L149.30,187.66 L149.70,187.80 L150.10,187.91 L150.50,188.04 L150.90,188.14 L151.30,188.20 L151.70,188.26 L152.10,188.33 L152.50,188.42 L152.90,188.45 L153.30,188.49 L153.70,188.53 L154.10,188.56 L154.50,188.58 L154.90,188.57 L155.30,188.59 L155.70,188.62 L156.10,188.61 L156.50,188.62 L156.90,188.64 L157.30,188.64 L157.70,188.62 L158.10,188.57 L158.50,188.52 L158.90,188.47 L159.30,188.40 L159.70,188.33 L160.10,188.23 L160.30,188.19 L160.50,188.13 L160.50,188.15 L160.70,188.18 L160.90,188.22 L161.30,188.30 L161.70,188.38 L162.10,188.48 L162.50,188.59 L162.90,188.71 L163.30,188.77 L163.70,188.82 L164.10,188.80 L164.50,188.81 L164.90,188.80 L165.30,188.83 L165.70,188.86 L166.10,188.85 L166.50,188.87 L166.90,188.87 L167.30,188.89 L167.70,188.87 L168.10,188.87 L168.50,188.83 L168.90,188.79 L169.30,188.80 L169.70,188.84 L170.10,188.84 L170.50,188.84 L170.90,188.86 L171.30,188.86 L171.70,188.89 L172.10,188.87 L172.50,188.91 L172.90,188.88 L173.30,188.88 L173.70,188.85 L174.10,188.90 L174.50,188.88 L174.90,188.91 L175.30,188.87 L175.70,188.89 L176.10,188.86 L176.50,188.88 L176.90,188.89 L177.30,188.91 L177.70,188.93 L178.10,188.93 L178.50,188.94 L178.90,188.92 L179.30,188.95 L179.70,188.92 L180.10,188.91 L180.50,188.87 L180.90,188.89 L181.30,188.90 L181.70,188.92 L182.10,188.91 L182.50,188.89 L182.90,188.88 L183.30,188.87 L183.70,188.84 L184.10,188.86 L184.50,188.84 L184.90,188.86 L185.30,188.84 L185.70,188.83 L186.10,188.81 L186.50,188.79 L186.90,188.80 L187.30,188.83 L187.70,188.83 L188.10,188.78 L188.50,188.73 L188.90,188.69 L189.30,188.68 L189.70,188.63 L190.10,188.52 L190.50,188.35 L190.90,188.21 L191.30,187.95 L191.70,187.63 L192.10,187.12 L192.50,186.53 L192.90,185.72 L193.30,184.83 L193.70,184.01 L194.00,183.66 L194.10,183.63 L194.20,183.61 L194.40,183.66 L194.50,183.69 L194.90,184.31 L195.30,185.17 L195.70,186.09 L196.10,186.80 L196.50,187.40 L196.90,187.80 L197.30,188.10 L197.70,188.33 L198.10,188.48 L198.50,188.59 L198.90,188.64 L199.30,188.67 L199.70,188.71 L200.10,188.72 L200.50,188.79 L200.90,188.82 L201.30,188.86 L201.70,188.86 L202.10,188.87 L202.50,188.86 L202.90,188.82 L203.30,188.84 L203.70,188.86 L204.10,188.88 L204.50,188.90 L204.90,188.87 L205.30,188.89 L205.70,188.84 L206.10,188.86 L206.50,188.85 L206.90,188.89 L207.30,188.89 L207.70,188.88 L208.10,188.83 L208.50,188.88 L208.90,188.91 L209.30,188.93 L209.70,188.93 L210.10,188.92 L210.50,188.86 L210.90,188.81 L211.30,188.78 L211.70,188.84 L212.10,188.81 L212.50,188.82 L212.90,188.75 L213.30,188.75 L213.70,188.72 L214.10,188.69 L214.50,188.65 L214.90,188.58 L215.30,188.51 L215.70,188.43 L216.10,188.33 L216.50,188.19 L216.90,187.98 L217.30,187.67 L217.70,187.18 L218.10,186.53 L218.50,185.58 L218.90,184.42 L219.30,183.11 L219.70,181.89 L220.10,181.13 L220.10,181.13 L220.30,181.03 L220.50,181.13 L220.50,181.13 L220.90,181.92 L221.30,183.14 L221.70,184.39 L222.10,185.53 L222.50,186.44 L222.90,187.14 L223.30,187.61 L223.70,187.98 L224.10,188.23 L224.50,188.39 L224.90,188.49 L225.30,188.53 L225.70,188.58 L226.10,188.63 L226.50,188.70 L226.90,188.77 L227.30,188.81 L227.70,188.82 L228.10,188.79 L228.50,188.81 L228.90,188.85 L229.30,188.93 L229.70,188.94 L230.10,188.95 L230.50,188.99 L230.90,188.98 L231.30,189.00 L231.70,188.97 L232.10,188.98 L232.50,188.96 L232.90,188.94 L233.30,188.91 L233.70,188.93 L234.10,188.93 L234.50,188.93 L234.90,188.91 L235.30,188.90 L235.70,188.95 L236.10,188.95 L236.50,188.98 L236.90,188.93 L237.30,188.91 L237.70,188.93 L238.10,188.94 L238.50,188.96 L238.90,188.97 L239.30,189.00 L239.70,189.00 L240.10,188.97 L240.50,188.93 L240.90,188.91 L241.30,188.92 L241.70,188.89 L242.10,188.87 L242.50,188.79 L242.90,188.77 L243.30,188.75 L243.70,188.76 L244.10,188.76 L244.50,188.70 L244.90,188.63 L245.30,188.54 L245.70,188.45 L246.10,188.36 L246.50,188.21 L246.90,187.95 L247.30,187.50 L247.70,186.82 L248.10,185.92 L248.50,184.74 L248.90,183.30 L249.30,181.85 L249.70,180.74 L249.80,180.61 L250.00,180.44 L250.10,180.46 L250.20,180.58 L250.50,181.21 L250.90,182.59 L251.30,184.07 L251.70,185.43 L252.10,186.49 L252.50,187.23 L252.90,187.72 L253.30,188.06 L253.70,188.31 L254.10,188.46 L254.50,188.56 L254.90,188.62 L255.30,188.66 L255.70,188.68 L256.10,188.73 L256.50,188.82 L256.90,188.88 L257.30,188.88 L257.70,188.86 L258.10,188.88 L258.50,188.90 L258.90,188.90 L259.30,188.91 L259.70,188.90 L260.10,188.95 L260.50,188.96 L260.90,188.99 L261.30,189.00 L261.70,189.01 L262.10,188.98 L262.50,188.95 L262.90,188.95 L263.30,188.98 L263.70,188.97 L264.10,188.92 L264.50,188.93 L264.90,188.99 L265.30,189.04 L265.70,189.02 L266.10,188.99 L266.50,188.92 L266.90,188.91 L267.30,188.92 L267.70,188.97 L268.10,188.95 L268.50,188.95 L268.90,188.93 L269.30,188.98 L269.70,188.95 L270.10,188.93 L270.50,188.89 L270.90,188.88 L271.30,188.89 L271.70,188.87 L272.10,188.86 L272.50,188.81 L272.90,188.83 L273.30,188.81 L273.70,188.76 L274.10,188.71 L274.50,188.68 L274.90,188.67 L275.30,188.60 L275.70,188.52 L276.10,188.42 L276.50,188.32 L276.90,188.20 L277.30,188.03 L277.70,187.78 L278.10,187.40 L278.50,186.93 L278.90,186.27 L279.30,185.47 L279.70,184.54 L280.10,183.49 L280.50,182.33 L280.90,181.15 L281.30,180.14 L281.70,179.51 L281.80,179.45 L282.00,179.36 L282.10,179.37 L282.20,179.41 L282.50,179.78 L282.90,180.55 L283.30,181.63 L283.70,182.76 L284.10,183.83 L284.50,184.74 L284.90,185.56 L285.30,186.24 L285.70,186.74 L286.10,187.06 L286.50,187.23 L286.90,187.26 L287.30,187.13 L287.70,186.82 L288.10,186.19 L288.50,185.28 L288.90,184.01 L289.30,182.46 L289.70,180.77 L290.10,179.48 L290.20,179.33 L290.40,179.20 L290.50,179.21 L290.60,179.31 L290.90,180.09 L291.30,181.72 L291.70,183.46 L292.10,184.99 L292.50,186.17 L292.90,186.99 L293.30,187.52 L293.70,187.90 L294.10,188.16 L294.50,188.30 L294.90,188.45 L295.30,188.57 L295.70,188.67 L296.10,188.70 L296.50,188.75 L296.90,188.82 L297.30,188.85 L297.70,188.88 L298.10,188.88 L298.50,188.92 L298.90,188.91 L299.30,188.91 L299.70,188.92 L300.10,188.95 L300.50,189.01 L300.90,189.01 L301.30,189.04 L301.70,189.04 L302.10,189.09 L302.50,189.07 L302.90,189.10 L303.30,189.08 L303.70,189.10 L304.10,189.09 L304.50,189.07 L304.90,189.06 L305.30,189.08 L305.70,189.09 L306.10,189.10 L306.50,189.08 L306.90,189.14 L307.30,189.14 L307.70,189.14 L308.10,189.10 L308.50,189.10 L308.90,189.12 L309.30,189.15 L309.70,189.16 L310.10,189.15 L310.50,189.15 L310.90,189.16 L311.30,189.15 L311.70,189.13 L312.10,189.14 L312.50,189.13 L312.90,189.16 L313.30,189.19 L313.70,189.24 L314.10,189.26 L314.50,189.21 L314.90,189.19 L315.30,189.14 L315.70,189.15 L316.10,189.11 L316.50,189.11 L316.90,189.14 L317.30,189.18 L317.70,189.23 L318.10,189.23 L318.50,189.23 L318.90,189.20 L319.30,189.18 L319.70,189.18 L320.10,189.22 L320.50,189.22 L320.90,189.20 L321.30,189.17 L321.70,189.20 L322.10,189.22 L322.50,189.23 L322.90,189.19 L323.30,189.19 L323.70,189.16 L324.10,189.17 L324.50,189.16 L324.90,189.18 L325.30,189.19 L325.70,189.20 L326.10,189.27 L326.50,189.27 L326.90,189.27 L327.30,189.21 L327.70,189.18 L328.10,189.19 L328.50,189.24 L328.90,189.25 L329.30,189.23 L329.70,189.21 L330.10,189.23 L330.50,189.19 L330.90,189.19 L331.30,189.19 L331.70,189.24 L332.10,189.21 L332.50,189.23 L332.90,189.23 L333.30,189.24 L333.70,189.23 L334.10,189.21 L334.50,189.21 L334.90,189.19 L335.30,189.19 L335.70,189.19 L336.10,189.22 L336.50,189.23 L336.90,189.22 L337.30,189.22 L337.70,189.24 L338.10,189.27 L338.50,189.25 L338.90,189.25 L339.30,189.23 L339.70,189.22 L340.10,189.21 L340.50,189.21 L340.90,189.23 L341.30,189.24 L341.70,189.21 L342.10,189.21 L342.50,189.18 L342.90,189.20 L343.30,189.21 L343.70,189.22 L344.10,189.21 L344.50,189.21 L344.90,189.21 L345.30,189.24 L345.70,189.24 L346.10,189.23 L346.50,189.19 L346.90,189.17 L347.30,189.19 L347.70,189.20 L348.10,189.18 L348.50,189.12 L348.90,189.09 L349.30,189.08 L349.70,189.10 L350.10,189.08 L350.50,189.06 L350.90,188.96 L351.30,188.86 L351.70,188.68 L352.10,188.48 L352.50,188.21 L352.90,188.02 L353.20,187.93 L353.30,187.93 L353.40,187.94 L353.60,187.91 L353.70,187.92 L354.10,188.05 L354.50,188.23 L354.90,188.38 L355.30,188.47 L355.70,188.50 L356.10,188.47 L356.50,188.35 L356.90,188.11 L357.30,187.70 L357.70,187.11 L358.10,186.39 L358.50,185.65 L358.90,184.91 L359.30,184.46 L359.30,184.41 L359.50,184.36 L359.70,184.41 L359.70,184.42 L360.10,184.93 L360.50,185.67 L360.90,186.47 L361.30,187.15 L361.70,187.75 L362.10,188.15 L362.50,188.46 L362.90,188.64 L363.30,188.75 L363.70,188.82 L364.10,188.89 L364.50,188.95 L364.90,189.00 L365.30,189.07 L365.70,189.09 L366.10,189.12 L366.50,189.13 L366.90,189.15 L367.30,189.14 L367.70,189.15 L368.10,189.18 L368.50,189.20 L368.90,189.20 L369.30,189.20 L369.70,189.18 L370.10,189.19 L370.50,189.20 L370.90,189.26 L371.30,189.24 L371.70,189.22 L372.10,189.19 L372.50,189.21 L372.90,189.22 L373.30,189.22 L373.70,189.22 L374.10,189.23 L374.50,189.23 L374.90,189.21 L375.30,189.22 L375.70,189.17 L376.10,189.22 L376.50,189.22 L376.90,189.25 L377.30,189.23 L377.70,189.20 L378.10,189.21 L378.50,189.19 L378.90,189.19 L379.30,189.16 L379.70,189.14 L380.10,189.10 L380.50,189.05 L380.90,188.96 L381.30,188.85 L381.70,188.75 L382.10,188.60 L382.50,188.35 L382.90,188.00 L383.30,187.59 L383.70,187.12 L384.10,186.66 L384.50,186.34 L384.60,186.36 L384.80,186.36 L384.90,186.39 L385.00,186.40 L385.30,186.57 L385.70,186.93 L386.10,187.39 L386.50,187.82 L386.90,188.19 L387.30,188.48 L387.70,188.71 L388.10,188.92 L388.50,189.04 L388.90,189.08 L389.30,189.10 L389.70,189.10 L390.10,189.16 L390.50,189.17 L390.90,189.18 L391.30,189.15 L391.70,189.18 L392.10,189.22 L392.50,189.24 L392.90,189.23 L393.30,189.23 L393.70,189.27 L394.10,189.26 L394.50,189.27 L394.90,189.25 L395.30,189.28 L395.70,189.31 L396.10,189.32 L396.50,189.31 L396.90,189.32 L397.30,189.32 L397.70,189.32 L398.10,189.29 L398.50,189.23 L398.90,189.20 L399.30,189.14 L399.70,189.07 L400.10,188.96 L400.50,188.81 L400.90,188.65 L401.30,188.50 L401.70,188.42 L401.80,188.41 L402.00,188.41 L402.10,188.44 L402.20,188.47 L402.50,188.50 L402.90,188.58 L403.30,188.71 L403.70,188.86 L404.10,188.98 L404.50,189.05 L404.90,189.09 L405.30,189.15 L405.70,189.22 L406.10,189.28 L406.50,189.28 L406.90,189.24 L407.30,189.19 L407.70,189.17 L408.10,189.17 L408.50,189.18 L408.90,189.18 L409.30,189.18 L409.70,189.15 L410.10,189.15 L410.50,189.09 L410.90,189.06 L411.30,188.97 L411.70,188.89 L412.10,188.75 L412.50,188.55 L412.90,188.30 L413.30,188.00 L413.70,187.66 L414.10,187.27 L414.50,186.85 L414.90,186.46 L415.30,186.20 L415.40,186.18 L415.60,186.17 L415.70,186.19 L415.80,186.22 L416.10,186.39 L416.50,186.71 L416.90,187.09 L417.30,187.52 L417.70,187.88 L418.10,188.23 L418.50,188.47 L418.90,188.70 L419.30,188.86 L419.70,188.95 L420.10,189.02 L420.50,189.08 L420.90,189.16 L421.30,189.19 L421.70,189.23 L422.10,189.24 L422.50,189.27 L422.90,189.26 L423.30,189.27 L423.70,189.25 L424.10,189.27 L424.50,189.29 L424.90,189.32 L425.30,189.33 L425.70,189.34 L426.10,189.34 L426.50,189.35 L426.90,189.34 L427.30,189.40 L427.70,189.38 L428.10,189.37 L428.50,189.33 L428.90,189.35 L429.30,189.39 L429.70,189.40 L430.10,189.40 L430.50,189.41 L430.90,189.43 L431.30,189.43 L431.70,189.40 L432.10,189.36 L432.50,189.37 L432.90,189.40 L433.30,189.41 L433.70,189.39 L434.10,189.36 L434.50,189.34 L434.90,189.39 L435.30,189.36 L435.70,189.39 L436.10,189.37 L436.50,189.41 L436.90,189.43 L437.30,189.41 L437.70,189.36 L438.10,189.36 L438.50,189.35 L438.90,189.38 L439.30,189.36 L439.70,189.41 L440.10,189.44 L440.50,189.41 L440.90,189.40 L441.30,189.40 L441.70,189.43 L442.10,189.41 L442.50,189.38 L442.90,189.39 L443.30,189.40 L443.70,189.45 L444.10,189.48 L444.50,189.47 L444.90,189.43 L445.30,189.43 L445.70,189.38 L446.10,189.38 L446.50,189.37 L446.90,189.45 L447.30,189.46 L447.70,189.46 L448.10,189.40 L448.50,189.41 L448.90,189.41 L449.30,189.42 L449.70,189.42 L450.10,189.42 L450.50,189.44 L450.90,189.43 L451.30,189.42 L451.70,189.41 L452.10,189.42 L452.50,189.43 L452.90,189.45 L453.30,189.43 L453.70,189.43 L454.10,189.39 L454.50,189.34 L454.90,189.28 L455.30,189.23 L455.70,189.17 L456.10,189.09 L456.50,189.00 L456.80,188.94 L456.90,188.96 L457.00,188.98 L457.20,188.98 L457.30,188.99 L457.70,189.02 L458.10,189.13 L458.50,189.24 L458.90,189.30 L459.30,189.31 L459.70,189.33 L460.10,189.34 L460.50,189.42 L460.90,189.42 L461.30,189.45 L461.70,189.43 L462.10,189.45 L462.50,189.45 L462.90,189.44 L463.30,189.46 L463.70,189.46 L464.10,189.49 L464.50,189.48 L464.90,189.45 L465.30,189.43 L465.70,189.40 L466.10,189.44 L466.50,189.47 L466.90,189.51 L467.30,189.49 L467.70,189.43 L468.10,189.42 L468.50,189.46 L468.90,189.46 L469.30,189.47 L469.70,189.45 L470.10,189.46 L470.50,189.43 L470.90,189.45 L471.30,189.42 L471.70,189.40 L472.10,189.38 L472.50,189.41 L472.90,189.39 L473.30,189.34 L473.70,189.28 L474.10,189.28 L474.50,189.23 L474.90,189.19 L475.30,189.09 L475.70,188.95 L476.10,188.73 L476.50,188.49 L476.90,188.22 L477.30,187.96 L477.70,187.77 L477.80,187.74 L478.00,187.72 L478.10,187.73 L478.20,187.73 L478.50,187.83 L478.90,188.05 L479.30,188.36 L479.70,188.66 L480.10,188.85 L480.50,189.00 L480.90,189.10 L481.30,189.22 L481.70,189.27 L482.10,189.32 L482.50,189.35 L482.90,189.37 L483.30,189.40 L483.70,189.40 L484.10,189.39 L484.50,189.38 L484.90,189.39 L485.30,189.43 L485.70,189.43 L486.10,189.46 L486.50,189.45 L486.90,189.49 L487.30,189.49 L487.70,189.51 L488.10,189.50 L488.50,189.51 L488.90,189.51 L489.30,189.48 L489.70,189.49 L490.10,189.50 L490.50,189.53 L490.90,189.52 L491.30,189.53 L491.70,189.53 L492.10,189.56 L492.50,189.49 L492.90,189.49 L493.30,189.46 L493.70,189.51 L494.10,189.53 L494.50,189.53 L494.90,189.52 L495.30,189.46 L495.70,189.47 L496.10,189.50 L496.50,189.55 L496.90,189.53 L497.30,189.51 L497.70,189.53 L498.10,189.54 L498.50,189.57 L498.90,189.54 L499.30,189.51 L499.70,189.48 L500.10,189.51 L500.50,189.52 L500.90,189.50 L501.30,189.46 L501.70,189.43 L502.10,189.39 L502.50,189.32 L502.90,189.29 L503.30,189.24 L503.70,189.20 L504.10,189.07 L504.50,188.94 L504.90,188.78 L505.30,188.66 L505.70,188.62 L505.80,188.69 L506.00,188.69 L506.10,188.67 L506.20,188.65 L506.50,188.69 L506.90,188.79 L507.30,188.88 L507.70,189.01 L508.10,189.13 L508.50,189.24 L508.90,189.30 L509.30,189.37 L509.70,189.42 L510.10,189.47 L510.50,189.46 L510.90,189.49 L511.30,189.50 L511.70,189.52 L512.10,189.53 L512.50,189.55 L512.90,189.57 L513.30,189.53 L513.70,189.55 L514.10,189.54 L514.50,189.60 L514.90,189.59 L515.30,189.60 L515.70,189.57 L516.10,189.55 L516.50,189.52 L516.90,189.51 L517.30,189.55 L517.70,189.55 L518.10,189.56 L518.50,189.57 L518.90,189.60 L519.30,189.62 L519.70,189.63 L520.10,189.59 L520.50,189.57 L520.90,189.55 L521.30,189.59 L521.70,189.60 L522.10,189.59 L522.50,189.57 L522.90,189.53 L523.30,189.56 L523.70,189.53 L524.10,189.56 L524.50,189.57 L524.90,189.62 L525.30,189.59 L525.70,189.57 L526.10,189.55 L526.50,189.58 L526.90,189.60 L527.30,189.61 L527.70,189.59 L528.10,189.55 L528.50,189.56 L528.90,189.59 L529.30,189.58 L529.70,189.55 L530.10,189.53 L530.50,189.55 L530.90,189.59 L531.30,189.59 L531.70,189.61 L532.10,189.61 L532.50,189.63" fill="none" stroke="#111" stroke-width="2.2" stroke-linejoin="round"/>
<path d="M70.50,241.38 L70.90,241.46 L71.30,241.52 L71.70,241.55 L72.10,241.52 L72.50,241.50 L72.90,241.48 L73.30,241.35 L73.70,241.41 L74.10,241.41 L74.50,241.47 L74.90,241.31 L75.30,241.39 L75.70,241.44 L76.10,241.53 L76.50,241.54 L76.90,241.38 L77.30,241.42 L77.70,241.27 L78.10,241.53 L78.50,241.40 L78.90,241.42 L79.30,241.25 L79.70,241.42 L80.10,241.52 L80.50,241.58 L80.90,241.52 L81.30,241.59 L81.70,241.53 L82.10,241.56 L82.50,241.54 L82.90,241.51 L83.30,241.45 L83.70,241.42 L84.10,241.50 L84.50,241.48 L84.90,241.42 L85.30,241.49 L85.70,241.54 L86.10,241.58 L86.50,241.49 L86.90,241.46 L87.30,241.50 L87.70,241.54 L88.10,241.63 L88.50,241.53 L88.90,241.48 L89.30,241.42 L89.70,241.43 L90.10,241.39 L90.50,241.32 L90.90,241.30 L91.30,241.09 L91.70,240.61 L92.10,239.34 L92.50,237.57 L92.70,236.77 L92.90,236.44 L92.90,236.51 L93.10,236.86 L93.30,237.62 L93.70,239.46 L94.10,240.60 L94.50,241.17 L94.90,241.27 L95.30,241.33 L95.70,241.29 L96.10,241.28 L96.50,241.43 L96.90,241.50 L97.30,241.52 L97.70,241.40 L98.10,241.27 L98.50,241.28 L98.90,241.27 L99.30,241.35 L99.70,241.35 L100.10,241.44 L100.50,241.50 L100.90,241.52 L101.30,241.53 L101.70,241.47 L102.10,241.52 L102.50,241.53 L102.90,241.62 L103.30,241.64 L103.70,241.56 L104.10,241.41 L104.50,241.37 L104.90,241.47 L105.30,241.51 L105.70,241.55 L106.10,241.50 L106.50,241.52 L106.90,241.47 L107.30,241.39 L107.70,241.31 L108.10,241.28 L108.50,241.29 L108.90,241.37 L109.30,241.38 L109.70,241.31 L110.10,241.27 L110.50,241.30 L110.90,241.31 L111.30,241.33 L111.70,241.24 L112.10,241.25 L112.50,241.33 L112.90,241.45 L113.30,241.52 L113.70,241.44 L114.10,241.45 L114.50,241.54 L114.90,241.56 L115.30,241.53 L115.70,241.48 L116.10,241.46 L116.50,241.45 L116.90,241.42 L117.30,241.46 L117.70,241.42 L118.10,241.41 L118.50,241.35 L118.90,241.39 L119.30,241.46 L119.70,241.50 L120.10,241.44 L120.50,241.42 L120.90,241.35 L121.30,241.34 L121.70,241.29 L122.10,241.38 L122.50,241.46 L122.90,241.50 L123.30,241.53 L123.70,241.53 L124.10,241.48 L124.50,241.45 L124.90,241.39 L125.30,241.43 L125.70,241.41 L126.10,241.42 L126.50,241.32 L126.90,241.28 L127.30,241.26 L127.70,241.33 L128.10,241.31 L128.50,241.26 L128.90,241.18 L129.30,241.23 L129.70,241.31 L130.10,241.40 L130.50,241.36 L130.90,241.41 L131.30,241.41 L131.70,241.40 L132.10,241.33 L132.50,241.27 L132.90,241.29 L133.30,241.24 L133.70,241.25 L134.10,241.18 L134.50,241.12 L134.90,241.08 L135.30,241.08 L135.70,241.01 L136.10,240.89 L136.50,240.71 L136.90,240.70 L137.30,240.60 L137.70,240.55 L138.10,240.28 L138.50,240.09 L138.90,239.69 L139.30,239.24 L139.70,238.57 L140.10,237.57 L140.50,235.95 L140.90,233.17 L141.30,227.91 L141.70,217.30 L142.10,198.45 L142.20,193.75 L142.40,189.14 L142.50,190.15 L142.60,193.44 L142.90,208.44 L143.30,223.48 L143.70,231.04 L144.10,234.83 L144.50,236.87 L144.90,238.04 L145.30,238.88 L145.70,239.48 L146.10,240.01 L146.50,240.24 L146.90,240.48 L147.30,240.56 L147.70,240.69 L148.10,240.75 L148.50,240.88 L148.90,241.02 L149.30,241.12 L149.70,241.00 L150.10,240.97 L150.50,240.97 L150.90,241.19 L151.30,241.22 L151.70,241.21 L152.10,241.15 L152.50,241.15 L152.90,241.16 L153.30,241.28 L153.70,241.34 L154.10,241.39 L154.50,241.38 L154.90,241.46 L155.30,241.45 L155.70,241.41 L156.10,241.29 L156.50,241.23 L156.90,241.17 L157.30,241.05 L157.70,240.94 L158.10,240.72 L158.30,240.70 L158.50,240.60 L158.50,240.62 L158.70,240.58 L158.90,240.72 L159.30,241.02 L159.70,241.33 L160.10,241.49 L160.50,241.57 L160.90,241.58 L161.30,241.52 L161.70,241.41 L162.10,241.33 L162.50,241.35 L162.90,241.33 L163.30,241.34 L163.70,241.28 L164.10,241.24 L164.50,241.40 L164.90,241.49 L165.30,241.47 L165.70,241.37 L166.10,241.30 L166.50,241.30 L166.90,241.27 L167.30,241.31 L167.70,241.45 L168.10,241.51 L168.50,241.46 L168.90,241.43 L169.30,241.41 L169.70,241.48 L170.10,241.50 L170.50,241.47 L170.90,241.51 L171.30,241.43 L171.70,241.35 L172.10,241.38 L172.50,241.46 L172.90,241.59 L173.30,241.51 L173.70,241.48 L174.10,241.40 L174.50,241.40 L174.90,241.39 L175.30,241.41 L175.70,241.40 L176.10,241.46 L176.50,241.51 L176.90,241.59 L177.30,241.51 L177.70,241.47 L178.10,241.44 L178.50,241.50 L178.90,241.38 L179.30,241.35 L179.70,241.33 L180.10,241.43 L180.50,241.39 L180.90,241.35 L181.30,241.43 L181.70,241.49 L182.10,241.54 L182.50,241.53 L182.90,241.54 L183.30,241.49 L183.70,241.39 L184.10,241.29 L184.50,241.37 L184.90,241.42 L185.30,241.52 L185.70,241.51 L186.10,241.50 L186.50,241.38 L186.90,241.33 L187.30,241.45 L187.70,241.48 L188.10,241.44 L188.50,241.32 L188.90,241.41 L189.30,241.44 L189.70,241.38 L190.10,241.26 L190.50,241.24 L190.90,241.26 L191.30,241.29 L191.70,241.32 L192.10,241.15 L192.50,240.46 L192.90,238.79 L193.30,236.26 L193.60,234.63 L193.70,234.40 L193.80,234.38 L194.00,234.74 L194.10,235.16 L194.50,237.56 L194.90,239.61 L195.30,240.62 L195.70,241.04 L196.10,241.19 L196.50,241.32 L196.90,241.35 L197.30,241.38 L197.70,241.40 L198.10,241.45 L198.50,241.52 L198.90,241.44 L199.30,241.48 L199.70,241.43 L200.10,241.42 L200.50,241.35 L200.90,241.29 L201.30,241.30 L201.70,241.29 L202.10,241.40 L202.50,241.38 L202.90,241.42 L203.30,241.36 L203.70,241.50 L204.10,241.49 L204.50,241.54 L204.90,241.53 L205.30,241.47 L205.70,241.42 L206.10,241.28 L206.50,241.29 L206.90,241.32 L207.30,241.39 L207.70,241.45 L208.10,241.41 L208.50,241.38 L208.90,241.35 L209.30,241.33 L209.70,241.31 L210.10,241.23 L210.50,241.27 L210.90,241.34 L211.30,241.36 L211.70,241.34 L212.10,241.20 L212.50,241.19 L212.90,241.21 L213.30,241.26 L213.70,241.33 L214.10,241.30 L214.50,241.37 L214.90,241.31 L215.30,241.24 L215.70,241.20 L216.10,241.23 L216.50,241.24 L216.90,241.20 L217.30,241.04 L217.70,240.85 L218.10,240.34 L218.50,238.94 L218.90,236.12 L219.30,232.74 L219.40,232.13 L219.60,231.62 L219.70,231.77 L219.80,232.02 L220.10,234.28 L220.50,237.64 L220.90,239.90 L221.30,240.69 L221.70,240.99 L222.10,241.23 L222.50,241.42 L222.90,241.35 L223.30,241.23 L223.70,241.22 L224.10,241.29 L224.50,241.40 L224.90,241.44 L225.30,241.33 L225.70,241.27 L226.10,241.24 L226.50,241.45 L226.90,241.44 L227.30,241.38 L227.70,241.28 L228.10,241.32 L228.50,241.30 L228.90,241.37 L229.30,241.35 L229.70,241.48 L230.10,241.46 L230.50,241.50 L230.90,241.53 L231.30,241.57 L231.70,241.53 L232.10,241.46 L232.50,241.43 L232.90,241.46 L233.30,241.43 L233.70,241.39 L234.10,241.34 L234.50,241.34 L234.90,241.17 L235.30,241.22 L235.70,241.33 L236.10,241.53 L236.50,241.56 L236.90,241.48 L237.30,241.41 L237.70,241.40 L238.10,241.39 L238.50,241.42 L238.90,241.41 L239.30,241.37 L239.70,241.39 L240.10,241.40 L240.50,241.48 L240.90,241.48 L241.30,241.48 L241.70,241.44 L242.10,241.32 L242.50,241.18 L242.90,241.16 L243.30,241.20 L243.70,241.32 L244.10,241.25 L244.50,241.28 L244.90,241.21 L245.30,241.21 L245.70,241.17 L246.10,241.16 L246.50,241.14 L246.90,241.03 L247.30,240.75 L247.70,239.97 L248.10,238.14 L248.50,235.20 L248.80,233.21 L248.90,232.84 L249.00,232.73 L249.20,233.24 L249.30,233.92 L249.70,236.94 L250.10,239.39 L250.50,240.55 L250.90,241.00 L251.30,241.23 L251.70,241.36 L252.10,241.33 L252.50,241.41 L252.90,241.33 L253.30,241.40 L253.70,241.26 L254.10,241.23 L254.50,241.15 L254.90,241.29 L255.30,241.45 L255.70,241.50 L256.10,241.35 L256.50,241.35 L256.90,241.36 L257.30,241.44 L257.70,241.47 L258.10,241.55 L258.50,241.60 L258.90,241.52 L259.30,241.40 L259.70,241.28 L260.10,241.19 L260.50,241.29 L260.90,241.26 L261.30,241.35 L261.70,241.31 L262.10,241.34 L262.50,241.36 L262.90,241.36 L263.30,241.36 L263.70,241.38 L264.10,241.40 L264.50,241.37 L264.90,241.38 L265.30,241.31 L265.70,241.39 L266.10,241.36 L266.50,241.41 L266.90,241.36 L267.30,241.32 L267.70,241.31 L268.10,241.30 L268.50,241.35 L268.90,241.34 L269.30,241.36 L269.70,241.38 L270.10,241.37 L270.50,241.33 L270.90,241.26 L271.30,241.29 L271.70,241.36 L272.10,241.46 L272.50,241.43 L272.90,241.49 L273.30,241.43 L273.70,241.52 L274.10,241.44 L274.50,241.37 L274.90,241.27 L275.30,241.28 L275.70,241.32 L276.10,241.37 L276.50,241.23 L276.90,241.16 L277.30,240.92 L277.70,240.49 L278.10,238.96 L278.50,236.53 L278.70,235.33 L278.90,234.97 L278.90,234.91 L279.10,235.41 L279.30,236.38 L279.70,238.71 L280.10,239.68 L280.50,239.22 L280.90,237.21 L281.30,234.43 L281.50,233.22 L281.70,232.74 L281.70,232.57 L281.90,233.02 L282.10,234.32 L282.50,237.38 L282.90,239.54 L283.30,240.47 L283.70,240.90 L284.10,240.97 L284.50,241.13 L284.90,241.15 L285.30,241.29 L285.70,241.21 L286.10,241.26 L286.50,241.18 L286.90,241.17 L287.30,241.00 L287.70,240.81 L288.10,240.38 L288.50,239.39 L288.90,237.17 L289.30,233.53 L289.70,230.11 L289.70,230.08 L289.90,229.48 L290.10,230.05 L290.10,230.05 L290.50,233.53 L290.90,237.19 L291.30,239.57 L291.70,240.62 L292.10,240.96 L292.50,241.08 L292.90,241.06 L293.30,241.16 L293.70,241.15 L294.10,241.31 L294.50,241.28 L294.90,241.33 L295.30,241.24 L295.70,241.32 L296.10,241.35 L296.50,241.35 L296.90,241.42 L297.30,241.42 L297.70,241.40 L298.10,241.27 L298.50,241.15 L298.90,241.13 L299.30,241.17 L299.70,241.16 L300.10,241.28 L300.50,241.21 L300.90,241.29 L301.30,241.36 L301.70,241.42 L302.10,241.44 L302.50,241.42 L302.90,241.42 L303.30,241.45 L303.70,241.35 L304.10,241.35 L304.50,241.33 L304.90,241.37 L305.30,241.35 L305.70,241.36 L306.10,241.39 L306.50,241.46 L306.90,241.45 L307.30,241.37 L307.70,241.37 L308.10,241.41 L308.50,241.41 L308.90,241.26 L309.30,241.21 L309.70,241.31 L310.10,241.47 L310.50,241.42 L310.90,241.44 L311.30,241.35 L311.70,241.45 L312.10,241.36 L312.50,241.46 L312.90,241.44 L313.30,241.45 L313.70,241.43 L314.10,241.37 L314.50,241.37 L314.90,241.32 L315.30,241.31 L315.70,241.37 L316.10,241.43 L316.50,241.47 L316.90,241.38 L317.30,241.36 L317.70,241.37 L318.10,241.45 L318.50,241.43 L318.90,241.40 L319.30,241.44 L319.70,241.41 L320.10,241.41 L320.50,241.25 L320.90,241.26 L321.30,241.25 L321.70,241.32 L322.10,241.37 L322.50,241.36 L322.90,241.40 L323.30,241.35 L323.70,241.36 L324.10,241.24 L324.50,241.28 L324.90,241.33 L325.30,241.38 L325.70,241.33 L326.10,241.21 L326.50,241.24 L326.90,241.21 L327.30,241.32 L327.70,241.33 L328.10,241.41 L328.50,241.35 L328.90,241.27 L329.30,241.24 L329.70,241.25 L330.10,241.42 L330.50,241.44 L330.90,241.54 L331.30,241.47 L331.70,241.44 L332.10,241.30 L332.50,241.26 L332.90,241.31 L333.30,241.39 L333.70,241.41 L334.10,241.40 L334.50,241.33 L334.90,241.33 L335.30,241.27 L335.70,241.34 L336.10,241.39 L336.50,241.33 L336.90,241.32 L337.30,241.27 L337.70,241.42 L338.10,241.43 L338.50,241.38 L338.90,241.36 L339.30,241.39 L339.70,241.34 L340.10,241.30 L340.50,241.19 L340.90,241.15 L341.30,241.09 L341.70,241.13 L342.10,241.16 L342.50,241.30 L342.90,241.28 L343.30,241.40 L343.70,241.35 L344.10,241.52 L344.50,241.48 L344.90,241.53 L345.30,241.36 L345.70,241.38 L346.10,241.28 L346.50,241.28 L346.90,241.30 L347.30,241.41 L347.70,241.56 L348.10,241.58 L348.50,241.42 L348.90,241.27 L349.30,241.26 L349.70,241.34 L350.10,241.40 L350.50,241.34 L350.90,241.23 L351.30,241.15 L351.70,240.96 L352.10,240.67 L352.50,240.03 L352.80,239.70 L352.90,239.63 L353.00,239.74 L353.20,239.88 L353.30,239.86 L353.70,240.27 L354.10,240.68 L354.50,240.97 L354.90,241.02 L355.30,241.12 L355.70,241.18 L356.10,241.33 L356.50,241.22 L356.90,241.15 L357.30,240.84 L357.70,240.19 L358.10,239.01 L358.50,237.31 L358.80,236.35 L358.90,236.00 L359.00,236.08 L359.20,236.27 L359.30,236.55 L359.70,237.93 L360.10,239.42 L360.50,240.50 L360.90,241.04 L361.30,241.14 L361.70,241.01 L362.10,241.15 L362.50,241.18 L362.90,241.11 L363.30,240.76 L363.70,240.56 L363.80,240.67 L364.00,240.61 L364.10,240.56 L364.20,240.55 L364.50,240.70 L364.90,241.03 L365.30,241.18 L365.70,241.35 L366.10,241.32 L366.50,241.29 L366.90,241.27 L367.30,241.33 L367.70,241.30 L368.10,241.24 L368.50,241.23 L368.90,241.29 L369.30,241.44 L369.70,241.47 L370.10,241.56 L370.50,241.44 L370.90,241.41 L371.30,241.35 L371.70,241.41 L372.10,241.39 L372.50,241.46 L372.90,241.37 L373.30,241.44 L373.70,241.37 L374.10,241.39 L374.50,241.42 L374.90,241.45 L375.30,241.46 L375.70,241.34 L376.10,241.33 L376.50,241.30 L376.90,241.36 L377.30,241.27 L377.70,241.32 L378.10,241.24 L378.50,241.27 L378.90,241.35 L379.30,241.47 L379.70,241.45 L380.10,241.34 L380.50,241.15 L380.90,241.17 L381.30,241.20 L381.70,241.15 L382.10,240.85 L382.50,240.32 L382.90,239.55 L383.30,238.77 L383.40,238.69 L383.60,238.62 L383.70,238.67 L383.80,238.78 L384.10,239.27 L384.50,240.11 L384.90,240.61 L385.30,240.77 L385.70,240.70 L386.10,240.26 L386.50,239.83 L386.80,239.43 L386.90,239.41 L387.00,239.33 L387.20,239.45 L387.30,239.59 L387.70,240.18 L388.10,240.58 L388.50,240.92 L388.90,241.03 L389.30,241.18 L389.70,241.20 L390.10,241.26 L390.50,241.29 L390.90,241.31 L391.30,241.42 L391.70,241.43 L392.10,241.45 L392.50,241.29 L392.90,241.34 L393.30,241.30 L393.70,241.35 L394.10,241.26 L394.50,241.28 L394.90,241.24 L395.30,241.22 L395.70,241.15 L396.10,241.18 L396.50,241.24 L396.90,241.35 L397.30,241.45 L397.70,241.54 L398.10,241.47 L398.50,241.35 L398.90,241.29 L399.30,241.27 L399.70,241.34 L400.10,241.32 L400.50,241.23 L400.90,241.02 L401.30,240.73 L401.70,240.48 L401.80,240.37 L402.00,240.25 L402.10,240.26 L402.20,240.27 L402.50,240.50 L402.90,240.81 L403.30,241.06 L403.70,241.13 L404.10,241.22 L404.50,241.24 L404.90,241.31 L405.30,241.19 L405.70,241.23 L406.10,241.23 L406.50,241.34 L406.90,241.40 L407.30,241.42 L407.70,241.43 L408.10,241.37 L408.50,241.29 L408.90,241.20 L409.30,241.17 L409.70,241.23 L410.10,241.33 L410.50,241.38 L410.90,241.37 L411.30,241.34 L411.70,241.29 L412.10,241.27 L412.50,241.18 L412.90,241.12 L413.30,240.89 L413.70,240.37 L414.10,239.54 L414.50,238.51 L414.80,238.08 L414.90,238.08 L415.00,238.05 L415.20,238.05 L415.30,238.13 L415.70,239.00 L416.10,240.02 L416.50,240.62 L416.90,240.93 L417.30,240.95 L417.70,240.85 L418.10,240.59 L418.50,240.24 L418.80,239.90 L418.90,239.83 L419.00,239.73 L419.20,239.78 L419.30,239.91 L419.70,240.41 L420.10,240.79 L420.50,241.00 L420.90,241.10 L421.30,241.23 L421.70,241.30 L422.10,241.22 L422.50,241.27 L422.90,241.23 L423.30,241.31 L423.70,241.33 L424.10,241.40 L424.50,241.32 L424.90,241.29 L425.30,241.30 L425.70,241.29 L426.10,241.26 L426.50,241.12 L426.90,241.14 L427.30,241.18 L427.70,241.34 L428.10,241.31 L428.50,241.25 L428.90,241.26 L429.30,241.37 L429.70,241.39 L430.10,241.31 L430.50,241.16 L430.90,241.21 L431.30,241.30 L431.70,241.43 L432.10,241.38 L432.50,241.33 L432.90,241.26 L433.30,241.33 L433.70,241.29 L434.10,241.35 L434.50,241.40 L434.90,241.44 L435.30,241.43 L435.70,241.39 L436.10,241.41 L436.50,241.38 L436.90,241.35 L437.30,241.30 L437.70,241.38 L438.10,241.40 L438.50,241.44 L438.90,241.35 L439.30,241.28 L439.70,241.23 L440.10,241.28 L440.50,241.33 L440.90,241.31 L441.30,241.27 L441.70,241.31 L442.10,241.36 L442.50,241.38 L442.90,241.31 L443.30,241.25 L443.70,241.43 L444.10,241.46 L444.50,241.53 L444.90,241.36 L445.30,241.30 L445.70,241.33 L446.10,241.32 L446.50,241.33 L446.90,241.29 L447.30,241.23 L447.70,241.22 L448.10,241.03 L448.50,240.94 L448.80,240.90 L448.90,240.93 L449.00,240.87 L449.20,240.81 L449.30,240.88 L449.70,240.96 L450.10,241.04 L450.50,241.12 L450.90,241.25 L451.30,241.34 L451.70,241.28 L452.10,241.30 L452.50,241.34 L452.90,241.39 L453.30,241.28 L453.70,241.27 L454.10,241.16 L454.50,241.31 L454.90,241.23 L455.30,241.28 L455.70,241.08 L456.10,240.89 L456.50,240.71 L456.80,240.59 L456.90,240.71 L457.00,240.68 L457.20,240.71 L457.30,240.76 L457.70,240.98 L458.10,241.17 L458.50,241.17 L458.90,241.28 L459.30,241.39 L459.70,241.51 L460.10,241.41 L460.50,241.33 L460.90,241.23 L461.30,241.30 L461.70,241.33 L462.10,241.40 L462.50,241.24 L462.90,241.30 L463.30,241.23 L463.70,241.21 L464.10,241.09 L464.50,241.15 L464.90,241.36 L465.30,241.28 L465.70,241.19 L466.10,241.12 L466.50,241.18 L466.90,241.23 L467.30,241.17 L467.70,241.25 L468.10,241.20 L468.50,241.23 L468.90,241.18 L469.30,241.26 L469.70,241.27 L470.10,241.36 L470.50,241.37 L470.90,241.46 L471.30,241.33 L471.70,241.30 L472.10,241.25 L472.50,241.33 L472.90,241.21 L473.30,241.18 L473.70,241.15 L474.10,241.40 L474.50,241.37 L474.90,241.42 L475.30,241.22 L475.70,241.22 L476.10,240.94 L476.50,240.75 L476.90,240.40 L477.30,240.09 L477.70,239.86 L477.80,239.83 L478.00,239.95 L478.10,239.84 L478.20,239.83 L478.50,239.98 L478.90,240.40 L479.30,240.82 L479.70,241.07 L480.10,241.19 L480.50,241.22 L480.90,241.25 L481.30,241.32 L481.70,241.31 L482.10,241.26 L482.50,241.25 L482.90,241.31 L483.30,241.44 L483.70,241.38 L484.10,241.29 L484.50,241.18 L484.90,241.32 L485.30,241.33 L485.70,241.46 L486.10,241.50 L486.50,241.42 L486.90,241.34 L487.30,241.26 L487.70,241.36 L488.10,241.23 L488.50,241.21 L488.90,241.22 L489.30,241.37 L489.70,241.38 L490.10,241.36 L490.50,241.40 L490.90,241.46 L491.30,241.58 L491.70,241.49 L492.10,241.44 L492.50,241.37 L492.90,241.34 L493.30,241.20 L493.70,241.21 L494.10,241.14 L494.50,241.27 L494.90,241.19 L495.30,241.30 L495.70,241.25 L496.10,241.26 L496.50,241.19 L496.90,241.18 L497.30,241.31 L497.70,241.38 L498.10,241.40 L498.50,241.36 L498.90,241.28 L499.30,241.22 L499.70,241.13 L500.10,241.24 L500.50,241.30 L500.90,241.34 L501.30,241.29 L501.70,241.28 L502.10,241.33 L502.50,241.35 L502.90,241.30 L503.30,241.12 L503.70,240.97 L504.10,240.81 L504.50,240.67 L504.80,240.61 L504.90,240.64 L505.00,240.65 L505.20,240.61 L505.30,240.59 L505.70,240.69 L506.10,240.96 L506.50,241.09 L506.90,241.22 L507.30,241.20 L507.70,241.26 L508.10,241.23 L508.50,241.11 L508.90,241.14 L509.30,240.99 L509.70,240.95 L510.10,240.60 L510.50,240.51 L510.80,240.34 L510.90,240.47 L511.00,240.46 L511.20,240.45 L511.30,240.47 L511.70,240.50 L512.10,240.75 L512.50,240.90 L512.90,241.11 L513.30,241.28 L513.70,241.27 L514.10,241.29 L514.50,241.30 L514.90,241.31 L515.30,241.32 L515.70,241.31 L516.10,241.30 L516.50,241.25 L516.90,241.17 L517.30,241.31 L517.70,241.50 L518.10,241.46 L518.50,241.37 L518.90,241.32 L519.30,241.38 L519.70,241.38 L520.10,241.26 L520.50,241.26 L520.90,241.28 L521.30,241.33 L521.70,241.34 L522.10,241.27 L522.50,241.20 L522.90,241.16 L523.30,241.15 L523.70,241.21 L524.10,241.21 L524.50,241.34 L524.90,241.26 L525.30,241.24 L525.70,241.11 L526.10,241.23 L526.50,241.21 L526.90,241.26 L527.30,241.19 L527.70,241.22 L528.10,241.23 L528.50,241.32 L528.90,241.41 L529.30,241.33 L529.70,241.34 L530.10,241.34 L530.50,241.42 L530.90,241.39 L531.30,241.34 L531.70,241.31 L532.10,241.33 L532.50,241.33" fill="none" stroke="#111" stroke-width="1.85" stroke-linejoin="round"/>
<path d="M70,23.9 V246.6" stroke="#111" stroke-width="3" fill="none"/>
<path d="M68.5,245 H534" stroke="#111" stroke-width="3.2" fill="none"/>
<path d="M70,25.30 H76" stroke="#111" stroke-width="2.6"/>
<path d="M70,52.73 H76" stroke="#111" stroke-width="2.6"/>
<path d="M70,80.16 H76" stroke="#111" stroke-width="2.6"/>
<path d="M70,107.59 H76" stroke="#111" stroke-width="2.6"/>
<path d="M70,135.02 H76" stroke="#111" stroke-width="2.6"/>
<path d="M70,162.45 H76" stroke="#111" stroke-width="2.6"/>
<path d="M70,189.88 H76" stroke="#111" stroke-width="2.6"/>
<path d="M70,217.31 H76" stroke="#111" stroke-width="2.6"/>
<path d="M147.20,238.9 V245" stroke="#111" stroke-width="3"/>
<path d="M224.30,238.9 V245" stroke="#111" stroke-width="3"/>
<path d="M301.40,238.9 V245" stroke="#111" stroke-width="3"/>
<path d="M378.50,238.9 V245" stroke="#111" stroke-width="3"/>
<path d="M455.60,238.9 V245" stroke="#111" stroke-width="3"/>
<path d="M532.70,238.9 V245" stroke="#111" stroke-width="3"/>
<text x="69.60" y="270.2" text-anchor="middle" font-size="20.7">20</text>
<text x="146.70" y="270.2" text-anchor="middle" font-size="20.7">30</text>
<text x="223.80" y="270.2" text-anchor="middle" font-size="20.7">40</text>
<text x="300.90" y="270.2" text-anchor="middle" font-size="20.7">50</text>
<text x="378.00" y="270.2" text-anchor="middle" font-size="20.7">60</text>
<text x="455.10" y="270.2" text-anchor="middle" font-size="20.7">70</text>
<text x="532.20" y="270.2" text-anchor="middle" font-size="20.7">80</text>
<text x="284.0" y="296.3" font-size="22.3">2</text>
<text x="296.6" y="296.6" font-size="23.5" class="th">θ</text>
<text x="308.6" y="296.0" font-size="23.5">°</text>
<text x="509.8" y="46.0" font-size="15.8">GLY</text>
<text x="509.8" y="101.0" font-size="15.8">GLC</text>
<text x="509.8" y="157.0" font-size="15.8">LAC</text>
<text x="509.8" y="216.8" font-size="15.8">ACE</text>
<text transform="translate(97.0,74.5) rotate(-45)" font-size="13.2" class="m">(012)</text>
<text transform="translate(145.0,26.2) rotate(-45)" font-size="13.2" class="m">(104)</text>
<text transform="translate(160.8,79.2) rotate(-45)" font-size="13.2" class="m">(006)</text>
<text transform="translate(196.5,75.2) rotate(-45)" font-size="13.2" class="m">(1<tspan dx="0.9">1</tspan>0)</text>
<text transform="translate(222.5,73.2) rotate(-45)" font-size="13.2" class="m">(1<tspan dx="0.9">1</tspan>3)</text>
<text transform="translate(251.5,72.7) rotate(-45)" font-size="13.2" class="m">(202)</text>
<text transform="translate(284.7,72.7) rotate(-45)" font-size="13.2" class="m">(018)</text>
<text transform="translate(361.8,76.2) rotate(-45)" font-size="13.2" class="m">(2<tspan dx="0.9">1</tspan>2)</text>
<text transform="translate(387.8,77.2) rotate(-45)" font-size="13.2" class="m">(1<tspan dx="0.9">1</tspan>9)</text>
<text transform="translate(418.8,77.7) rotate(-45)" font-size="13.2" class="m">(300)</text>
<text transform="translate(459.5,79.2) rotate(-45)" font-size="13.2" class="m">(02<tspan dx="0.9">1</tspan>0)</text>
</g>
<g id="panel-b">
<text x="4.6" y="320" font-size="23">b</text>
<rect x="82.51" y="453.00" width="45.80" height="134.00" fill="#fff" stroke="#111" stroke-width="1.4"/>
<rect x="128.31" y="465.36" width="46.20" height="121.64" fill="#0a0a0a" stroke="#0a0a0a" stroke-width="0.8"/>
<path d="M128.31,337.3 V342.6" stroke="#111" stroke-width="2.4"/>
<rect x="197.94" y="373.00" width="45.80" height="214.00" fill="#fff" stroke="#111" stroke-width="1.4"/>
<rect x="243.74" y="370.12" width="46.20" height="216.88" fill="#0a0a0a" stroke="#0a0a0a" stroke-width="0.8"/>
<path d="M243.74,337.3 V342.6" stroke="#111" stroke-width="2.4"/>
<rect x="313.36" y="444.25" width="45.80" height="142.75" fill="#fff" stroke="#111" stroke-width="1.4"/>
<rect x="359.16" y="476.06" width="46.20" height="110.94" fill="#0a0a0a" stroke="#0a0a0a" stroke-width="0.8"/>
<path d="M359.16,337.3 V342.6" stroke="#111" stroke-width="2.4"/>
<rect x="428.79" y="385.75" width="45.80" height="201.25" fill="#fff" stroke="#111" stroke-width="1.4"/>
<rect x="474.59" y="420.77" width="46.20" height="166.23" fill="#0a0a0a" stroke="#0a0a0a" stroke-width="0.8"/>
<path d="M474.59,337.3 V342.6" stroke="#111" stroke-width="2.4"/>
<rect x="70.6" y="337.3" width="461.69999999999993" height="249.7" fill="none" stroke="#111" stroke-width="2.8"/>
<text x="64.6" y="594.00" text-anchor="end" font-size="20.7">0</text>
<path d="M70.6,537.06 H76.19999999999999" stroke="#111" stroke-width="2.4"/>
<text x="64.6" y="544.06" text-anchor="end" font-size="20.7">20</text>
<path d="M70.6,487.12 H76.19999999999999" stroke="#111" stroke-width="2.4"/>
<text x="64.6" y="494.12" text-anchor="end" font-size="20.7">40</text>
<path d="M70.6,437.18 H76.19999999999999" stroke="#111" stroke-width="2.4"/>
<text x="64.6" y="444.18" text-anchor="end" font-size="20.7">60</text>
<path d="M70.6,387.24 H76.19999999999999" stroke="#111" stroke-width="2.4"/>
<text x="64.6" y="394.24" text-anchor="end" font-size="20.7">80</text>
<text x="64.6" y="344.30" text-anchor="end" font-size="20.7">100</text>
<text x="537.4" y="594.60" font-size="20.7">0</text>
<path d="M532.3,515.66 H526.0999999999999" stroke="#111" stroke-width="2.4"/>
<text x="537.4" y="523.26" font-size="20.7">20</text>
<path d="M532.3,444.31 H526.0999999999999" stroke="#111" stroke-width="2.4"/>
<text x="537.4" y="451.91" font-size="20.7">40</text>
<path d="M532.3,372.97 H526.0999999999999" stroke="#111" stroke-width="2.4"/>
<text x="537.4" y="380.57" font-size="20.7">60</text>
<text x="129.61" y="611.2" text-anchor="middle" font-size="24.3">GLY</text>
<text x="245.94" y="611.2" text-anchor="middle" font-size="24.3">GLC</text>
<text x="359.66" y="611.2" text-anchor="middle" font-size="24.3">LAC</text>
<text x="476.69" y="611.2" text-anchor="middle" font-size="24.3">ACE</text>
<text transform="translate(17.3,463.5) rotate(-90)" text-anchor="middle" font-size="23">Crystalline Index [%]</text>
<text transform="translate(592.6,472) rotate(-90)" text-anchor="middle" font-size="22.6">Crystallite Size [nm]</text>
</g>
</g></svg></body></html>
